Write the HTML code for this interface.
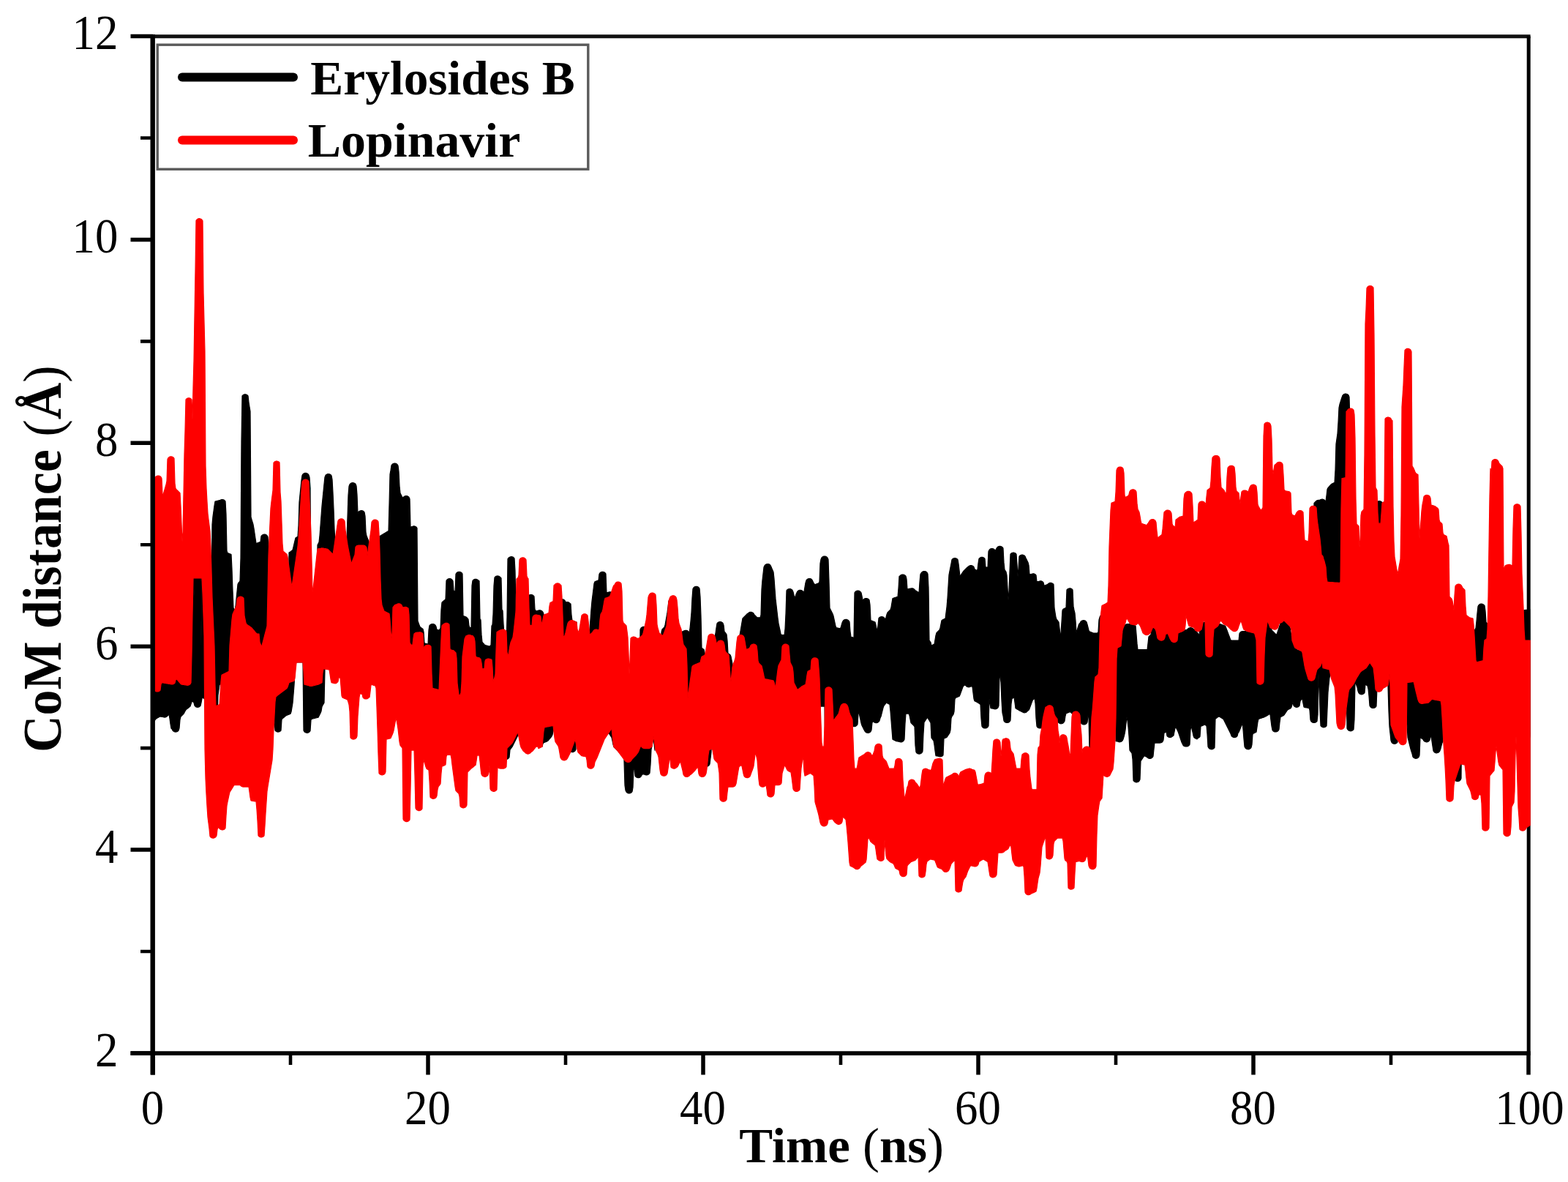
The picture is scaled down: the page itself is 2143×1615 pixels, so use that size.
<!DOCTYPE html>
<html lang="en"><head><meta charset="utf-8"><title>CoM distance vs Time</title>
<style>html,body{margin:0;padding:0;background:#fff}svg{display:block;filter:blur(0.45px)}</style></head>
<body>
<svg width="2143" height="1615" viewBox="0 0 2143 1615">
<rect width="2143" height="1615" fill="#fff"/>
<path d="M209.0,49.8H2091.6" stroke="#111" stroke-width="5" fill="none"/>
<path d="M2089.2,49.5V1439.0" stroke="#000" stroke-width="5" fill="none"/>
<clipPath id="plotclip"><rect x="209" y="40" width="1882.6" height="1400"/></clipPath>
<g clip-path="url(#plotclip)">
<path d="M210,797.8 211,798.0 212,798.1 213,798.0 214,797.8 215,797.6 216,797.5 217,797.4 218,797.2 219,796.9 220,793.4 221,793.4 222,804.0 223,804.4 224,802.7 225,801.1 226,799.4 227,797.8 228,795.6 229,780.8 230,779.9 231,779.5 232,779.3 233,779.3 234,779.4 235,779.5 236,779.6 237,779.8 238,780.1 239,796.7 240,798.3 241,798.2 242,799.0 243,800.1 244,801.2 245,802.3 246,803.4 247,812.9 248,825.4 249,837.6 250,831.3 251,804.7 252,778.1 253,762.1 254,740.9 255,740.5 256,740.2 257,740.1 258,739.9 259,739.7 260,739.4 261,738.7 262,720.4 263,705.7 264,659.8 265,815.1 266,789.3 267,788.2 268,787.6 269,787.3 270,787.1 271,787.2 272,787.6 273,788.1 274,789.2 275,883.1 276,545.1 277,556.4 278,620.0 279,654.6 280,751.7 281,850.5 282,875.9 283,893.6 284,909.3 285,917.1 286,924.9 287,934.2 288,945.0 289,810.6 290,716.6 291,705.6 292,698.3 293,690.9 294,685.0 295,684.8 296,684.5 297,684.3 298,684.0 299,683.8 300,683.5 301,683.3 302,682.9 303,682.7 304,682.6 305,682.7 306,683.1 307,683.8 308,685.0 309,702.5 310,752.5 311,755.5 312,755.9 313,756.3 314,756.7 315,757.1 316,757.5 317,777.8 318,806.8 319,830.6 320,832.6 321,834.6 322,828.2 323,818.2 324,808.2 325,798.2 326,796.4 327,795.1 328,793.7 329,762.4 330,602.4 331,540.9 332,539.9 333,539.2 334,538.9 335,538.8 336,538.9 337,539.2 338,539.8 339,540.8 340,549.8 341,556.0 342,562.1 343,706.5 344,709.9 345,713.2 346,716.5 347,722.1 348,728.8 349,735.5 350,742.1 351,742.3 352,741.9 353,741.5 354,741.1 355,740.7 356,740.3 357,732.7 358,731.4 359,730.7 360,730.3 361,730.1 362,730.2 363,730.4 364,730.9 365,731.8 366,733.5 367,747.0 368,755.1 369,885.8 370,872.4 371,865.0 372,858.1 373,846.6 374,814.6 375,804.5 376,794.7 377,791.1 378,790.6 379,790.3 380,790.0 381,789.9 382,790.0 383,810.0 384,815.7 385,829.8 386,843.9 387,848.7 388,848.7 389,848.7 390,848.8 391,848.8 392,848.8 393,849.7 394,851.8 395,755.1 396,754.4 397,753.7 398,752.9 399,752.2 400,751.4 401,747.4 402,743.1 403,738.8 404,735.0 405,734.3 406,733.7 407,733.0 408,718.1 409,686.1 410,676.1 411,666.1 412,656.1 413,649.5 414,647.9 415,647.1 416,646.6 417,646.4 418,646.3 419,646.5 420,647.0 421,647.7 422,649.1 423,652.2 424,667.1 425,832.7 426,852.2 427,872.7 428,870.6 429,865.8 430,861.1 431,856.3 432,851.6 433,846.8 434,744.8 435,742.8 436,740.8 437,731.6 438,718.3 439,704.9 440,691.6 441,681.2 442,671.2 443,661.2 444,651.9 445,649.5 446,648.5 447,647.9 448,647.7 449,647.6 450,647.7 451,648.1 452,648.7 453,649.8 454,655.0 455,673.6 456,695.5 457,723.0 458,740.1 459,832.4 460,828.8 461,825.0 462,821.3 463,817.9 464,817.7 465,817.6 466,823.3 467,829.9 468,831.0 469,831.5 470,832.2 471,833.2 472,839.5 473,843.1 474,736.5 475,706.5 476,676.5 477,664.5 478,661.8 479,660.7 480,660.1 481,659.7 482,659.6 483,659.7 484,660.0 485,660.5 486,661.5 487,663.9 488,676.1 489,702.1 490,699.5 491,698.5 492,698.0 493,697.7 494,697.6 495,697.7 496,698.1 497,698.7 498,699.8 499,705.0 500,727.0 501,732.3 502,734.8 503,737.3 504,739.8 505,742.3 506,838.4 507,830.5 508,824.4 509,823.7 510,823.5 511,823.4 512,823.5 513,823.7 514,825.2 515,839.0 516,854.1 517,871.6 518,892.5 519,732.6 520,732.0 521,731.4 522,730.8 523,730.2 524,729.6 525,729.0 526,728.4 527,727.8 528,727.2 529,726.6 530,726.0 531,725.4 532,689.4 533,648.2 534,642.7 535,635.8 536,634.5 537,633.7 538,633.3 539,633.1 540,633.1 541,633.3 542,633.8 543,634.6 544,636.3 545,644.3 546,664.3 547,673.8 548,675.8 549,677.8 550,679.8 551,679.7 552,678.8 553,678.1 554,677.7 555,677.6 556,677.7 557,677.9 558,678.5 559,679.4 560,681.7 561,720.0 562,719.8 563,719.5 564,719.2 565,718.9 566,718.9 567,719.0 568,719.5 569,720.2 570,721.5 571,848.5 572,851.3 573,854.1 574,856.5 575,857.2 576,858.0 577,858.7 578,859.5 579,863.4 580,878.4 581,879.0 582,879.3 583,879.5 584,879.8 585,880.0 586,860.7 587,854.7 588,853.8 589,853.1 590,852.7 591,852.6 592,852.6 593,852.9 594,853.4 595,854.3 596,856.1 597,860.1 598,860.5 599,860.9 600,861.3 601,859.9 602,858.4 603,832.7 604,823.1 605,822.2 606,821.3 607,820.5 608,819.6 609,818.6 610,793.4 611,792.0 612,791.3 613,790.8 614,790.7 615,790.7 616,790.9 617,791.4 618,792.2 619,793.8 620,806.9 621,807.8 622,808.0 623,784.3 624,782.8 625,782.0 626,781.5 627,781.3 628,781.3 629,781.5 630,781.9 631,782.7 632,784.1 633,841.5 634,841.8 635,842.2 636,842.6 637,843.0 638,843.7 639,845.0 640,846.2 641,854.8 642,857.5 643,857.5 644,857.5 645,800.0 646,793.3 647,792.3 648,791.7 649,791.4 650,791.3 651,791.4 652,791.7 653,792.2 654,793.2 655,793.7 656,845.5 657,846.8 658,867.4 659,877.2 660,878.4 661,879.5 662,880.7 663,881.4 664,881.7 665,882.0 666,882.3 667,882.6 668,882.9 669,883.0 670,882.3 671,881.5 672,855.0 673,853.6 674,839.3 675,800.3 676,789.1 677,788.0 678,787.3 679,787.0 680,786.9 681,787.0 682,787.3 683,787.9 684,788.9 685,790.0 686,832.9 687,834.3 688,852.6 689,867.2 690,874.7 691,880.4 692,881.8 693,843.1 694,763.6 695,762.5 696,761.5 697,761.0 698,760.7 699,760.6 700,760.8 701,761.1 702,761.8 703,762.9 704,779.7 705,827.9 706,834.6 707,850.6 708,860.0 709,860.0 710,860.0 711,860.0 712,860.0 713,860.0 714,860.0 715,860.0 716,860.0 717,860.0 718,860.0 719,860.0 720,860.0 721,816.1 722,814.2 723,813.3 724,812.8 725,812.6 726,812.5 727,812.7 728,813.1 729,813.8 730,815.0 731,832.5 732,834.1 733,834.9 734,834.7 735,834.4 736,834.1 737,833.8 738,833.8 739,834.0 740,834.4 741,835.2 742,836.3 743,839.3 744,848.2 745,858.9 746,860.0 747,860.0 748,860.0 749,860.0 750,860.0 751,860.0 752,860.0 753,860.0 754,860.0 755,860.0 756,860.0 757,860.0 758,860.0 759,860.0 760,860.0 761,860.0 762,860.0 763,860.0 764,821.2 765,820.0 766,819.3 767,818.9 768,818.8 769,818.8 770,819.1 771,819.6 772,820.5 773,822.5 774,822.7 775,822.5 776,822.6 777,822.9 778,823.5 779,824.4 780,825.0 781,840.7 782,847.8 783,848.2 784,848.5 785,848.9 786,849.3 787,849.7 788,850.0 789,941.9 790,945.1 791,946.9 792,944.6 793,942.1 794,939.6 795,936.8 796,936.4 797,936.2 798,936.1 799,936.2 800,936.3 801,936.6 802,939.0 803,944.2 804,948.6 805,864.2 806,860.2 807,846.5 808,832.5 809,821.3 810,813.3 811,805.3 812,797.3 813,794.8 814,794.4 815,794.0 816,793.6 817,793.2 818,792.8 819,784.3 820,782.8 821,782.0 822,781.5 823,781.3 824,781.3 825,781.5 826,781.9 827,782.7 828,784.2 829,809.9 830,809.7 831,809.4 832,809.1 833,808.8 834,808.8 835,809.0 836,809.5 837,810.2 838,811.7 839,817.6 840,910.2 841,909.7 842,909.8 843,910.0 844,910.4 845,911.1 846,911.8 847,912.7 848,913.7 849,914.9 850,920.8 851,941.4 852,943.7 853,944.9 854,946.0 855,947.1 856,947.9 857,951.9 858,956.0 859,967.0 860,981.3 861,971.0 862,956.1 863,954.9 864,953.9 865,953.2 866,952.6 867,952.2 868,951.8 869,951.6 870,951.2 871,950.7 872,950.3 873,949.0 874,947.3 875,860.3 876,858.2 877,857.2 878,856.7 879,856.4 880,856.3 881,856.5 882,856.8 883,857.5 884,858.7 885,865.1 886,919.3 887,917.9 888,916.9 889,916.2 890,915.5 891,915.1 892,911.6 893,908.0 894,911.0 895,914.7 896,918.7 897,926.6 898,941.0 899,944.6 900,947.8 901,954.0 902,959.0 903,962.0 904,863.4 905,859.9 906,858.9 907,857.9 908,856.9 909,853.9 910,848.3 911,842.6 912,836.9 913,829.3 914,820.8 915,927.7 916,926.3 917,931.3 918,931.6 919,931.8 920,931.9 921,932.1 922,932.2 923,932.4 924,932.7 925,933.9 926,938.8 927,870.1 928,867.4 929,864.9 930,864.4 931,863.9 932,863.4 933,862.9 934,862.4 935,861.9 936,861.5 937,861.3 938,861.4 939,861.6 940,862.1 941,863.0 942,864.7 943,858.5 944,848.5 945,837.0 946,817.0 947,804.5 948,802.9 949,802.0 950,801.6 951,801.3 952,801.3 953,801.5 954,801.9 955,802.7 956,804.0 957,815.6 958,842.3 959,885.3 960,886.0 961,886.7 962,887.3 963,891.4 964,895.1 965,971.8 966,965.8 967,958.0 968,950.1 969,946.3 970,945.7 971,945.2 972,944.9 973,944.7 974,945.8 975,949.0 976,952.4 977,870.1 978,865.0 979,857.8 980,851.8 981,850.7 982,850.1 983,849.7 984,849.6 985,849.7 986,849.9 987,850.5 988,851.5 989,854.1 990,862.8 991,864.1 992,865.4 993,866.8 994,875.2 995,892.7 996,893.3 997,894.0 998,894.7 999,897.0 1000,902.0 1001,907.0 1002,991.4 1003,990.0 1004,988.3 1005,986.0 1006,979.3 1007,970.9 1008,964.6 1009,960.9 1010,872.1 1011,868.1 1012,862.3 1013,856.3 1014,850.3 1015,844.9 1016,843.9 1017,842.9 1018,841.9 1019,840.9 1020,839.9 1021,838.9 1022,838.4 1023,837.4 1024,836.8 1025,836.4 1026,836.3 1027,836.4 1028,836.7 1029,837.2 1030,838.2 1031,840.0 1032,840.9 1033,841.9 1034,842.9 1035,843.8 1036,843.8 1037,843.8 1038,843.8 1039,843.8 1040,840.1 1041,805.1 1042,792.5 1043,783.8 1044,775.0 1045,772.8 1046,771.7 1047,771.0 1048,770.7 1049,770.5 1050,770.6 1051,770.9 1052,771.4 1053,772.4 1054,774.6 1055,776.9 1056,779.3 1057,781.6 1058,790.9 1059,804.9 1060,818.4 1061,827.1 1062,835.7 1063,844.4 1064,851.7 1065,856.4 1066,861.0 1067,865.7 1068,867.6 1069,867.6 1070,867.6 1071,867.6 1072,867.6 1073,859.3 1074,838.5 1075,806.9 1076,805.7 1077,805.1 1078,804.7 1079,804.6 1080,804.6 1081,804.9 1082,805.5 1083,806.4 1084,808.7 1085,812.9 1086,816.9 1087,815.1 1088,812.1 1089,809.7 1090,807.9 1091,807.1 1092,806.6 1093,806.3 1094,806.3 1095,806.5 1096,806.9 1097,807.6 1098,808.9 1099,808.1 1100,802.1 1101,796.1 1102,792.9 1103,791.7 1104,791.1 1105,790.7 1106,790.5 1107,790.6 1108,790.9 1109,791.4 1110,792.4 1111,794.6 1112,796.7 1113,797.9 1114,798.7 1115,798.3 1116,797.9 1117,797.5 1118,797.1 1119,796.7 1120,794.6 1121,769.6 1122,764.3 1123,762.0 1124,761.0 1125,760.4 1126,760.1 1127,760.0 1128,760.1 1129,760.5 1130,761.1 1131,762.2 1132,764.6 1133,794.2 1134,830.7 1135,832.7 1136,834.7 1137,836.7 1138,838.7 1139,841.5 1140,846.2 1141,850.8 1142,855.5 1143,857.7 1144,857.9 1145,858.1 1146,858.3 1147,858.5 1148,858.7 1149,857.8 1150,854.3 1151,850.8 1152,848.7 1153,847.5 1154,846.8 1155,846.5 1156,846.3 1157,846.4 1158,846.7 1159,847.2 1160,848.1 1161,849.9 1162,862.8 1163,870.2 1164,870.5 1165,870.7 1166,871.0 1167,871.2 1168,809.9 1169,808.5 1170,807.7 1171,807.3 1172,807.1 1173,807.1 1174,807.3 1175,807.8 1176,808.6 1177,809.8 1178,814.4 1179,819.9 1180,819.3 1181,818.4 1182,817.9 1183,817.6 1184,817.6 1185,817.7 1186,818.1 1187,818.8 1188,819.7 1189,826.3 1190,847.6 1191,848.0 1192,848.4 1193,848.8 1194,849.2 1195,849.6 1196,850.0 1197,854.0 1198,859.0 1199,860.8 1200,854.3 1201,844.6 1202,843.6 1203,843.0 1204,842.7 1205,842.6 1206,842.7 1207,843.0 1208,843.6 1209,844.7 1210,847.5 1211,843.5 1212,839.5 1213,837.0 1214,836.0 1215,835.0 1216,834.0 1217,833.0 1218,829.4 1219,823.4 1220,817.5 1221,817.2 1222,816.9 1223,816.5 1224,816.2 1225,815.9 1226,815.5 1227,815.2 1228,803.7 1229,787.4 1230,786.8 1231,785.9 1232,785.4 1233,785.1 1234,785.0 1235,785.2 1236,785.6 1237,786.3 1238,787.2 1239,791.2 1240,805.0 1241,804.8 1242,804.6 1243,804.4 1244,804.2 1245,804.0 1246,803.8 1247,803.9 1248,804.1 1249,804.7 1250,805.6 1251,806.7 1252,807.3 1253,807.9 1254,808.6 1255,809.2 1256,809.9 1257,795.0 1258,784.6 1259,783.0 1260,781.8 1261,781.1 1262,780.7 1263,780.5 1264,780.6 1265,780.9 1266,781.4 1267,782.3 1268,784.3 1269,802.7 1270,874.7 1271,876.3 1272,877.6 1273,882.1 1274,881.6 1275,881.1 1276,880.6 1277,880.1 1278,874.1 1279,868.1 1280,864.6 1281,863.6 1282,862.6 1283,861.6 1284,860.6 1285,857.7 1286,852.7 1287,847.7 1288,847.1 1289,846.6 1290,846.1 1291,845.6 1292,845.1 1293,837.2 1294,829.2 1295,817.3 1296,801.3 1297,785.3 1298,780.1 1299,775.1 1300,770.1 1301,764.7 1302,763.6 1303,763.0 1304,762.7 1305,762.6 1306,762.7 1307,763.0 1308,763.6 1309,764.6 1310,770.4 1311,778.9 1312,787.4 1313,786.1 1314,784.6 1315,783.1 1316,781.6 1317,780.1 1318,779.1 1319,778.1 1320,777.1 1321,776.1 1322,775.1 1323,774.6 1324,773.6 1325,773.0 1326,772.7 1327,772.6 1328,772.7 1329,773.0 1330,773.6 1331,774.6 1332,777.6 1333,778.2 1334,778.9 1335,779.6 1336,778.2 1337,769.6 1338,763.4 1339,762.4 1340,761.8 1341,761.4 1342,761.3 1343,761.4 1344,761.7 1345,762.3 1346,763.3 1347,774.8 1348,775.1 1349,775.1 1350,775.1 1351,753.4 1352,751.4 1353,750.4 1354,749.9 1355,749.6 1356,749.6 1357,749.7 1358,750.1 1359,750.8 1360,752.0 1361,751.1 1362,749.4 1363,747.8 1364,747.0 1365,746.6 1366,746.3 1367,746.3 1368,746.5 1369,747.0 1370,747.7 1371,749.2 1372,768.9 1373,778.3 1374,779.8 1375,781.4 1376,786.0 1377,803.0 1378,820.0 1379,807.0 1380,781.0 1381,757.2 1382,756.1 1383,755.5 1384,755.2 1385,755.1 1386,755.2 1387,755.5 1388,756.1 1389,757.1 1390,770.7 1391,787.9 1392,776.4 1393,760.2 1394,759.1 1395,758.5 1396,758.2 1397,758.1 1398,758.2 1399,758.5 1400,759.1 1401,760.1 1402,762.5 1403,764.4 1404,766.4 1405,768.4 1406,772.3 1407,784.3 1408,784.9 1409,784.6 1410,784.3 1411,784.0 1412,783.8 1413,783.9 1414,784.2 1415,784.8 1416,785.8 1417,794.9 1418,794.7 1419,794.5 1420,794.3 1421,794.0 1422,793.8 1423,793.9 1424,794.2 1425,794.8 1426,795.8 1427,800.0 1428,799.8 1429,799.5 1430,799.1 1431,798.8 1432,798.2 1433,797.2 1434,796.7 1435,796.4 1436,796.3 1437,796.5 1438,796.9 1439,797.5 1440,798.7 1441,830.7 1442,836.9 1443,843.1 1444,846.0 1445,847.3 1446,848.7 1447,850.0 1448,858.3 1449,867.3 1450,866.0 1451,850.0 1452,834.0 1453,832.2 1454,831.7 1455,831.2 1456,830.7 1457,830.2 1458,806.0 1459,804.9 1460,804.3 1461,804.0 1462,803.8 1463,803.9 1464,804.2 1465,804.8 1466,805.8 1467,828.4 1468,833.7 1469,837.7 1470,848.2 1471,864.6 1472,861.3 1473,858.0 1474,854.6 1475,852.3 1476,851.5 1477,849.5 1478,848.5 1479,848.0 1480,847.7 1481,847.6 1482,847.8 1483,848.1 1484,848.8 1485,849.9 1486,853.2 1487,857.2 1488,861.2 1489,862.9 1490,863.3 1491,863.7 1492,864.1 1493,864.5 1494,864.9 1495,865.1 1496,865.1 1497,865.1 1498,865.1 1499,865.1 1500,865.1 1501,862.9 1502,846.9 1503,843.3 1504,841.3 1505,840.1 1506,959.1 1507,950.9 1508,942.2 1509,942.8 1510,943.0 1511,943.0 1512,942.8 1513,942.5 1514,942.1 1515,930.5 1516,903.5 1517,890.3 1518,876.8 1519,871.1 1520,869.9 1521,868.7 1522,864.0 1523,856.3 1524,848.3 1525,885.0 1526,884.7 1527,884.3 1528,884.0 1529,883.7 1530,883.3 1531,883.0 1532,882.7 1533,874.7 1534,865.7 1535,859.7 1536,857.0 1537,854.5 1538,853.6 1539,853.0 1540,852.7 1541,852.6 1542,852.6 1543,852.6 1544,852.6 1545,852.6 1546,852.6 1547,852.6 1548,852.7 1549,853.0 1550,853.5 1551,854.5 1552,855.1 1553,866.4 1554,879.4 1555,887.6 1556,887.6 1557,887.6 1558,887.6 1559,887.6 1560,887.6 1561,887.6 1562,887.6 1563,887.6 1564,887.6 1565,887.6 1566,887.6 1567,887.6 1568,887.6 1569,879.1 1570,869.8 1571,868.8 1572,867.8 1573,866.8 1574,860.3 1575,859.0 1576,858.2 1577,857.8 1578,857.6 1579,857.7 1580,857.9 1581,858.4 1582,859.2 1583,860.9 1584,873.6 1585,874.1 1586,874.6 1587,875.1 1588,873.9 1589,872.4 1590,870.9 1591,869.4 1592,867.1 1593,866.1 1594,865.5 1595,865.2 1596,865.1 1597,865.2 1598,865.6 1599,866.2 1600,867.3 1601,874.0 1602,875.0 1603,876.0 1604,877.0 1605,876.8 1606,874.3 1607,871.8 1608,869.3 1609,866.8 1610,865.0 1611,864.5 1612,864.0 1613,863.5 1614,863.0 1615,862.5 1616,862.2 1617,861.8 1618,861.5 1619,861.2 1620,860.8 1621,860.5 1622,860.2 1623,859.7 1624,858.8 1625,858.1 1626,857.8 1627,857.6 1628,857.7 1629,858.0 1630,858.5 1631,859.5 1632,860.0 1633,861.0 1634,862.0 1635,863.0 1636,864.0 1637,865.0 1638,866.8 1639,868.8 1640,853.5 1641,851.8 1642,850.9 1643,850.4 1644,850.2 1645,850.1 1646,850.3 1647,850.7 1648,851.4 1649,852.7 1650,871.4 1651,870.0 1652,868.7 1653,867.4 1654,866.0 1655,864.7 1656,863.4 1657,862.0 1658,860.7 1659,859.6 1660,858.8 1661,857.9 1662,857.1 1663,855.0 1664,853.8 1665,853.1 1666,852.8 1667,852.6 1668,852.7 1669,853.0 1670,853.5 1671,853.9 1672,854.2 1673,854.6 1674,854.9 1675,855.9 1676,858.6 1677,861.3 1678,863.9 1679,866.6 1680,869.3 1681,871.9 1682,874.6 1683,875.1 1684,875.1 1685,875.1 1686,875.1 1687,875.1 1688,875.1 1689,875.1 1690,875.1 1691,875.1 1692,875.1 1693,875.1 1694,865.5 1695,864.0 1696,863.3 1697,862.8 1698,862.6 1699,862.6 1700,862.6 1701,862.6 1702,862.6 1703,862.7 1704,863.0 1705,863.2 1706,863.4 1707,863.6 1708,863.8 1709,864.0 1710,864.2 1711,864.4 1712,864.6 1713,864.8 1714,865.0 1715,864.9 1716,864.0 1717,863.2 1718,862.3 1719,861.4 1720,860.6 1721,859.7 1722,858.9 1723,858.0 1724,857.2 1725,856.3 1726,855.4 1727,854.6 1728,852.5 1729,851.3 1730,850.6 1731,850.3 1732,850.1 1733,850.2 1734,850.5 1735,851.0 1736,851.9 1737,854.0 1738,860.9 1739,861.9 1740,862.9 1741,863.9 1742,864.9 1743,865.9 1744,866.9 1745,866.8 1746,863.8 1747,860.8 1748,857.8 1749,854.8 1750,851.2 1751,849.3 1752,848.4 1753,847.9 1754,847.7 1755,847.6 1756,847.8 1757,848.2 1758,848.9 1759,850.1 1760,851.1 1761,851.8 1762,852.5 1763,857.2 1764,863.2 1765,869.2 1766,875.2 1767,877.2 1768,879.2 1769,881.2 1770,883.2 1771,885.2 1772,887.2 1773,887.9 1774,888.2 1775,888.6 1776,888.9 1777,889.2 1778,889.6 1779,889.9 1780,891.7 1781,897.7 1782,903.7 1783,909.7 1784,826.4 1785,828.2 1786,830.1 1787,832.0 1788,833.8 1789,828.6 1790,812.1 1791,811.5 1792,811.1 1793,810.9 1794,810.6 1795,717.4 1796,687.5 1797,686.5 1798,685.5 1799,684.5 1800,683.8 1801,683.6 1802,683.4 1803,683.3 1804,683.1 1805,682.6 1806,682.3 1807,682.1 1808,682.2 1809,682.5 1810,683.1 1811,684.1 1812,685.1 1813,677.2 1814,668.5 1815,666.6 1816,665.5 1817,664.3 1818,663.2 1819,662.1 1820,661.2 1821,660.7 1822,660.2 1823,659.7 1824,659.2 1825,642.6 1826,606.6 1827,599.6 1828,592.6 1829,577.2 1830,557.2 1831,552.3 1832,549.2 1833,546.0 1834,542.9 1835,540.3 1836,539.2 1837,538.6 1838,538.2 1839,538.1 1840,538.2 1841,538.5 1842,539.0 1843,540.0 1844,542.5 1845,578.7 1846,620.1 1847,748.2 1848,747.8 1849,747.5 1850,747.4 1851,749.6 1852,764.6 1853,805.0 1854,821.2 1855,820.9 1856,820.6 1857,820.3 1858,834.0 1859,828.7 1860,810.9 1861,807.9 1862,807.1 1863,806.2 1864,805.3 1865,767.3 1866,678.0 1867,667.7 1868,652.5 1869,651.0 1870,649.8 1871,648.8 1872,647.9 1873,648.5 1874,649.3 1875,650.3 1876,651.4 1877,652.8 1878,689.5 1879,761.8 1880,803.9 1881,686.9 1882,685.8 1883,685.1 1884,684.8 1885,684.6 1886,684.7 1887,685.0 1888,685.6 1889,686.5 1890,689.0 1891,813.0 1892,812.4 1893,755.6 1894,754.7 1895,754.1 1896,753.6 1897,753.3 1898,749.6 1899,745.5 1900,753.9 1901,781.2 1902,783.6 1903,785.4 1904,845.3 1905,870.7 1906,882.6 1907,887.0 1908,890.6 1909,894.2 1910,897.8 1911,896.5 1912,894.3 1913,892.4 1914,890.2 1915,860.5 1916,786.8 1917,779.4 1918,771.9 1919,759.2 1920,747.7 1921,746.6 1922,745.1 1923,704.5 1924,704.4 1925,704.4 1926,704.4 1927,704.6 1928,705.1 1929,706.2 1930,784.1 1931,784.9 1932,785.6 1933,788.7 1934,792.2 1935,795.3 1936,797.6 1937,800.0 1938,802.3 1939,825.1 1940,848.0 1941,842.0 1942,835.9 1943,829.7 1944,825.5 1945,823.0 1946,819.9 1947,819.2 1948,818.8 1949,818.6 1950,818.4 1951,818.4 1952,818.5 1953,818.3 1954,818.3 1955,818.9 1956,823.2 1957,822.9 1958,823.0 1959,823.3 1960,823.5 1961,823.8 1962,824.3 1963,824.7 1964,825.2 1965,825.7 1966,826.6 1967,833.7 1968,835.3 1969,835.7 1970,838.8 1971,847.6 1972,862.8 1973,873.8 1974,881.0 1975,889.1 1976,899.4 1977,912.4 1978,915.2 1979,918.1 1980,920.0 1981,955.1 1982,955.6 1983,956.0 1984,956.3 1985,957.2 1986,959.7 1987,953.4 1988,940.7 1989,932.7 1990,930.5 1991,928.7 1992,927.0 1993,925.4 1994,923.9 1995,922.5 1996,921.3 1997,921.8 1998,922.7 1999,923.8 2000,924.4 2001,925.0 2002,925.6 2003,940.8 2004,951.9 2005,956.0 2006,957.4 2007,958.7 2008,960.1 2009,961.3 2010,962.8 2011,964.9 2012,967.7 2013,968.3 2014,865.1 2015,862.0 2016,860.0 2017,858.0 2018,848.7 2019,837.7 2020,828.6 2021,826.8 2022,825.9 2023,825.4 2024,825.1 2025,825.1 2026,825.3 2027,825.7 2028,826.4 2029,827.6 2030,834.9 2031,850.1 2032,851.1 2033,852.1 2034,861.8 2035,938.4 2036,868.7 2037,849.4 2038,853.7 2039,843.4 2040,842.1 2041,841.1 2042,840.3 2043,834.5 2044,827.5 2045,823.8 2046,827.7 2047,831.8 2048,836.2 2049,839.4 2050,840.5 2051,841.6 2052,842.7 2053,843.8 2054,845.9 2055,959.1 2056,958.6 2057,957.5 2058,957.3 2059,957.3 2060,957.2 2061,957.0 2062,956.7 2063,956.4 2064,955.9 2065,950.8 2066,937.4 2067,936.5 2068,910.4 2069,894.1 2070,885.8 2071,861.0 2072,847.5 2073,862.4 2074,880.0 2075,896.4 2076,903.1 2077,911.7 2078,913.0 2079,931.6 2080,959.5 2081,839.9 2082,834.9 2083,833.7 2084,833.6 2085,833.4 2086,833.3 2087,833.2 2088,833.0 2089,832.9 2090,832.7 2091,832.6 2092,1001.4 2092,1007.4 2091,1001.4 2090,1001.7 2089,1002.0 2088,1002.4 2087,1002.7 2086,1003.1 2085,1004.1 2084,1004.6 2083,997.3 2082,982.5 2081,971.0 2080,965.5 2079,937.6 2078,919.0 2077,917.7 2076,909.1 2075,902.4 2074,886.0 2073,868.4 2072,853.5 2071,867.0 2070,891.8 2069,900.1 2068,916.4 2067,942.5 2066,943.4 2065,956.8 2064,961.9 2063,962.4 2062,962.7 2061,963.0 2060,963.2 2059,963.3 2058,963.3 2057,963.5 2056,964.6 2055,965.1 2054,851.9 2053,849.8 2052,848.7 2051,847.6 2050,846.5 2049,845.4 2048,842.2 2047,837.8 2046,833.7 2045,829.8 2044,833.5 2043,840.5 2042,846.3 2041,847.1 2040,848.1 2039,849.4 2038,859.7 2037,855.4 2036,874.7 2035,944.4 2034,974.0 2033,997.0 2032,1003.8 2031,1004.2 2030,1004.6 2029,1004.9 2028,1009.8 2027,1018.3 2026,1017.8 2025,1000.5 2024,995.2 2023,994.8 2022,994.6 2021,995.3 2020,997.4 2019,998.1 2018,998.5 2017,997.2 2016,988.7 2015,980.2 2014,972.6 2013,974.3 2012,973.7 2011,970.9 2010,968.8 2009,967.3 2008,966.1 2007,964.7 2006,963.4 2005,962.0 2004,957.9 2003,946.8 2002,931.6 2001,931.0 2000,930.4 1999,929.8 1998,928.7 1997,1063.6 1996,1065.7 1995,1066.7 1994,1067.2 1993,1067.5 1992,1067.6 1991,1067.4 1990,1067.1 1989,1066.4 1988,1065.2 1987,1012.0 1986,965.7 1985,963.2 1984,962.3 1983,962.0 1982,961.6 1981,961.1 1980,926.0 1979,924.1 1978,921.2 1977,918.4 1976,905.4 1975,895.1 1974,887.0 1973,879.8 1972,1012.9 1971,1014.9 1970,1018.7 1969,1022.7 1968,1025.6 1967,1027.3 1966,1028.1 1965,1028.5 1964,1028.8 1963,1028.8 1962,1028.6 1961,1028.2 1960,1027.4 1959,1026.0 1958,1019.7 1957,1012.7 1956,1005.7 1955,1006.9 1954,1011.2 1953,1012.5 1952,1013.2 1951,1013.6 1950,1013.8 1949,1013.8 1948,1013.5 1947,1013.0 1946,1012.2 1945,1010.4 1944,1009.6 1943,1008.9 1942,1008.3 1941,1007.6 1940,1032.1 1939,1034.4 1938,1035.4 1937,1036.0 1936,1036.2 1935,1036.3 1934,1036.2 1933,1035.8 1932,1035.2 1931,1034.0 1930,1029.9 1929,1026.9 1928,1023.5 1927,1019.5 1926,1015.5 1925,1011.5 1924,1007.5 1923,989.1 1922,751.1 1921,752.6 1920,753.7 1919,765.2 1918,777.9 1917,785.4 1916,792.8 1915,866.5 1914,896.2 1913,898.4 1912,900.3 1911,980.4 1910,1014.1 1909,1015.2 1908,1015.8 1907,1016.2 1906,1016.3 1905,1016.2 1904,1015.9 1903,1015.4 1902,1014.4 1901,1011.7 1900,1002.1 1899,993.1 1898,972.1 1897,937.5 1896,759.6 1895,760.1 1894,760.7 1893,761.6 1892,818.4 1891,819.0 1890,813.7 1889,814.8 1888,822.9 1887,829.8 1886,830.1 1885,830.1 1884,830.1 1883,823.0 1882,940.1 1881,964.8 1880,966.2 1879,966.9 1878,967.3 1877,967.5 1876,967.5 1875,967.3 1874,966.8 1873,965.9 1872,964.2 1871,951.3 1870,941.3 1869,937.1 1868,936.4 1867,935.8 1866,935.1 1865,946.5 1864,947.6 1863,948.3 1862,948.6 1861,948.8 1860,948.7 1859,948.4 1858,947.8 1857,946.9 1856,944.4 1855,939.2 1854,936.5 1853,933.8 1852,931.1 1851,983.3 1850,996.5 1849,997.7 1848,998.3 1847,998.7 1846,998.8 1845,998.7 1844,998.4 1843,997.9 1842,996.9 1841,995.1 1840,925.0 1839,816.3 1838,821.7 1837,823.6 1836,824.3 1835,824.7 1834,825.0 1833,845.6 1832,895.8 1831,896.2 1830,895.9 1829,895.4 1828,894.2 1827,892.1 1826,882.1 1825,872.1 1824,867.3 1823,866.0 1822,864.7 1821,863.4 1820,915.0 1819,917.4 1818,921.4 1817,926.0 1816,936.0 1815,946.0 1814,969.3 1813,991.9 1812,992.8 1811,993.4 1810,993.7 1809,993.8 1808,993.7 1807,993.3 1806,992.7 1805,991.6 1804,970.2 1803,941.2 1802,920.4 1801,976.4 1800,985.5 1799,986.4 1798,987.0 1797,987.4 1796,987.5 1795,987.5 1794,987.2 1793,986.6 1792,985.7 1791,983.4 1790,970.4 1789,967.4 1788,967.3 1787,967.1 1786,966.9 1785,966.8 1784,966.6 1783,966.4 1782,965.9 1781,960.9 1780,955.9 1779,954.7 1778,956.4 1777,958.1 1776,964.3 1775,965.3 1774,965.9 1773,966.2 1772,966.3 1771,966.2 1770,965.8 1769,965.2 1768,964.1 1767,959.1 1766,962.6 1765,966.1 1764,967.8 1763,968.3 1762,968.8 1761,969.3 1760,969.8 1759,970.9 1758,972.4 1757,973.9 1756,975.4 1755,976.9 1754,977.8 1753,978.3 1752,978.8 1751,979.3 1750,979.8 1749,986.9 1748,996.6 1747,998.4 1746,999.2 1745,999.7 1744,1000.0 1743,1000.0 1742,999.9 1741,999.5 1740,998.8 1739,997.5 1738,992.5 1737,984.5 1736,976.5 1735,975.6 1734,976.2 1733,976.9 1732,977.6 1731,978.1 1730,978.6 1729,979.1 1728,979.6 1727,980.1 1726,980.4 1725,980.7 1724,981.1 1723,981.4 1722,981.7 1721,982.1 1720,982.4 1719,986.4 1718,993.4 1717,1000.1 1716,1000.6 1715,1001.1 1714,1001.6 1713,1002.1 1712,1003.3 1711,1017.3 1710,1021.4 1709,1022.6 1708,1023.3 1707,1023.7 1706,1023.8 1705,1023.7 1704,1023.5 1703,1022.9 1702,1022.0 1701,1020.2 1700,1009.7 1699,996.7 1698,988.3 1697,990.8 1696,993.3 1695,995.8 1694,998.3 1693,1000.4 1692,1001.6 1691,1005.5 1690,1006.6 1689,1007.1 1688,1007.5 1687,1007.6 1686,1007.4 1685,1007.1 1684,1006.5 1683,1005.4 1682,1002.5 1681,1000.5 1680,998.5 1679,996.5 1678,994.5 1677,992.5 1676,990.5 1675,988.5 1674,986.5 1673,984.5 1672,982.5 1671,981.9 1670,981.3 1669,980.7 1668,980.1 1667,979.5 1666,978.9 1665,979.4 1664,980.1 1663,980.9 1662,981.6 1661,982.4 1660,1021.4 1659,1022.6 1658,1023.3 1657,1023.7 1656,1023.8 1655,1023.7 1654,1023.5 1653,1022.9 1652,1022.0 1651,1020.2 1650,1003.1 1649,992.0 1648,991.0 1647,990.0 1646,990.4 1645,990.8 1644,991.2 1643,991.6 1642,992.0 1641,992.4 1640,1006.4 1639,1007.6 1638,1008.3 1637,1008.6 1636,1010.0 1635,1009.5 1634,1008.9 1633,1008.4 1632,1007.8 1631,1005.2 1630,1000.5 1629,995.9 1628,991.2 1627,997.5 1626,1017.1 1625,1018.6 1624,1019.4 1623,1019.8 1622,1020.0 1621,1020.0 1620,1020.0 1619,1019.7 1618,1019.2 1617,1018.3 1616,1016.3 1615,1014.3 1614,1011.3 1613,1008.3 1612,1005.3 1611,1002.3 1610,999.6 1609,997.6 1608,995.6 1607,993.6 1606,995.0 1605,1000.0 1604,1005.0 1603,1005.5 1602,1006.5 1601,1007.1 1600,1007.4 1599,1007.6 1598,1007.5 1597,1007.1 1596,1006.5 1595,1005.5 1594,1000.1 1593,1000.5 1592,1001.0 1591,1001.5 1590,1011.3 1589,1013.3 1588,1014.2 1587,1014.7 1586,1015.0 1585,1015.1 1584,1015.1 1583,1015.1 1582,1015.1 1581,1015.1 1580,1015.1 1579,1015.1 1578,1015.1 1577,1023.7 1576,1033.3 1575,1034.8 1574,1035.6 1573,1036.1 1572,1036.3 1571,1036.3 1570,1036.1 1569,1035.6 1568,1034.9 1567,1034.1 1566,1033.6 1565,1033.1 1564,1032.6 1563,1034.0 1562,1035.5 1561,1037.0 1560,1038.5 1559,1040.0 1558,1065.0 1557,1067.0 1556,1068.0 1555,1068.5 1554,1068.8 1553,1068.8 1552,1068.7 1551,1068.3 1550,1067.6 1549,1066.4 1548,1037.6 1547,1029.1 1546,1027.8 1545,1026.4 1544,1025.1 1543,1005.9 1542,993.7 1541,984.7 1540,979.4 1539,988.4 1538,997.4 1537,1002.9 1536,1006.9 1535,1010.2 1534,1012.0 1533,1012.9 1532,1013.5 1531,1013.7 1530,1013.8 1529,1013.7 1528,1013.3 1527,1013.0 1526,1012.8 1525,1012.6 1524,854.3 1523,862.3 1522,870.0 1521,874.7 1520,875.9 1519,877.1 1518,882.8 1517,896.3 1516,909.5 1515,936.5 1514,948.1 1513,948.5 1512,948.8 1511,949.0 1510,949.0 1509,948.8 1508,948.2 1507,956.9 1506,965.1 1505,963.7 1504,968.8 1503,982.4 1502,1006.2 1501,1014.1 1500,1018.0 1499,1032.0 1498,1023.6 1497,1025.7 1496,1026.7 1495,1027.2 1494,1027.5 1493,1027.6 1492,1027.4 1491,1027.0 1490,1026.4 1489,1025.2 1488,979.1 1487,978.1 1486,986.9 1485,988.5 1484,989.3 1483,989.8 1482,990.0 1481,990.0 1480,989.8 1479,989.4 1478,988.6 1477,987.2 1476,985.9 1475,984.9 1474,983.9 1473,982.9 1472,981.9 1471,980.9 1470,979.9 1469,978.9 1468,977.9 1467,976.9 1466,975.9 1465,974.9 1464,973.9 1463,972.9 1462,972.8 1461,973.2 1460,973.6 1459,974.0 1458,974.4 1457,974.8 1456,978.4 1455,985.2 1454,986.9 1453,987.9 1452,988.4 1451,988.7 1450,988.8 1449,988.7 1448,988.3 1447,987.6 1446,986.5 1445,985.5 1444,985.9 1443,986.2 1442,986.6 1441,987.0 1440,987.3 1439,987.7 1438,988.0 1437,988.4 1436,988.7 1435,989.1 1434,989.4 1433,989.8 1432,990.1 1431,990.5 1430,990.8 1429,991.2 1428,991.5 1427,991.9 1426,992.2 1425,993.5 1424,994.3 1423,994.8 1422,995.0 1421,995.0 1420,994.8 1419,994.4 1418,993.7 1417,992.3 1416,981.7 1415,961.0 1414,954.3 1413,955.0 1412,955.8 1411,957.4 1410,960.1 1409,962.9 1408,965.6 1407,968.4 1406,970.3 1405,970.9 1404,971.9 1403,972.9 1402,973.4 1401,973.7 1400,973.8 1399,973.6 1398,973.3 1397,972.6 1396,972.1 1395,971.7 1394,971.3 1393,970.7 1392,970.1 1391,969.5 1390,968.9 1389,968.3 1388,967.7 1387,959.9 1386,952.8 1385,953.4 1384,954.1 1383,954.8 1382,962.0 1381,984.3 1380,985.9 1379,986.8 1378,987.3 1377,987.5 1376,987.5 1375,987.3 1374,986.9 1373,986.2 1372,984.8 1371,978.2 1370,974.1 1369,957.2 1368,932.8 1367,924.1 1366,924.6 1365,964.3 1364,966.9 1363,967.8 1362,968.4 1361,968.7 1360,968.8 1359,968.7 1358,968.4 1357,968.2 1356,968.0 1355,967.8 1354,967.6 1353,961.4 1352,954.4 1351,991.7 1350,993.4 1349,994.3 1348,994.8 1347,995.0 1346,995.0 1345,994.9 1344,994.4 1343,993.7 1342,992.4 1341,982.0 1340,962.5 1339,961.8 1338,961.1 1337,960.5 1336,959.8 1335,959.3 1334,958.8 1333,958.3 1332,957.8 1331,954.7 1330,946.7 1329,938.7 1328,937.7 1327,938.0 1326,938.3 1325,938.6 1324,938.8 1323,938.7 1322,938.4 1321,937.9 1320,936.9 1319,935.8 1318,936.4 1317,937.1 1316,938.5 1315,941.2 1314,944.0 1313,946.7 1312,949.5 1311,951.4 1310,951.8 1309,952.2 1308,952.6 1307,953.0 1306,953.4 1305,955.4 1304,972.4 1303,976.2 1302,977.5 1301,978.8 1300,981.5 1299,997.5 1298,1001.3 1297,1002.8 1296,1004.3 1295,1005.8 1294,1007.3 1293,1007.9 1292,1008.3 1291,1008.7 1290,1009.1 1289,1031.9 1288,1032.9 1287,1033.4 1286,1033.7 1285,1033.8 1284,1033.7 1283,1033.4 1282,1033.2 1281,1033.0 1280,1032.8 1279,1032.6 1278,1025.9 1277,1017.9 1276,1012.1 1275,1010.8 1274,1009.4 1273,1008.1 1272,987.6 1271,986.0 1270,984.3 1269,982.6 1268,981.0 1267,980.9 1266,982.4 1265,983.9 1264,985.4 1263,986.9 1262,1002.6 1261,1026.4 1260,1028.4 1259,1029.3 1258,1029.8 1257,1030.1 1256,1030.1 1255,1030.0 1254,1029.6 1253,1028.9 1252,1027.7 1251,1018.8 1250,992.8 1249,991.6 1248,990.6 1247,989.6 1246,988.6 1245,987.6 1244,982.7 1243,977.7 1242,975.1 1241,975.1 1240,975.1 1239,975.1 1238,975.1 1237,988.7 1236,1010.3 1235,1012.1 1234,1013.0 1233,1013.6 1232,1013.8 1231,1013.9 1230,1013.7 1229,1013.4 1228,1013.2 1227,1013.0 1226,1012.8 1225,1012.6 1224,1012.2 1223,1011.7 1222,1011.2 1221,1010.7 1220,1010.2 1219,997.4 1218,984.4 1217,971.9 1216,962.5 1215,962.0 1214,961.5 1213,961.0 1212,960.5 1211,960.4 1210,961.8 1209,963.1 1208,964.4 1207,967.0 1206,971.0 1205,975.0 1204,979.0 1203,981.0 1202,984.6 1201,986.1 1200,986.9 1199,987.4 1198,987.6 1197,987.6 1196,987.4 1195,987.0 1194,986.2 1193,985.4 1192,987.5 1191,997.5 1190,999.6 1189,1000.5 1188,1001.1 1187,1001.3 1186,1001.4 1185,1001.2 1184,1000.9 1183,1000.2 1182,999.0 1181,997.2 1180,995.2 1179,993.2 1178,991.2 1177,988.0 1176,983.3 1175,978.7 1174,974.0 1173,974.9 1172,989.6 1171,991.1 1170,991.9 1169,992.4 1168,992.6 1167,992.6 1166,992.4 1165,992.0 1164,991.2 1163,989.8 1162,1079.9 1161,1076.5 1160,1067.5 1159,1058.5 1158,1051.5 1157,1045.4 1156,1040.9 1155,1040.2 1154,1039.6 1153,1039.1 1152,1038.7 1151,1042.5 1150,1043.8 1149,1045.2 1148,1047.0 1147,1049.1 1146,1050.9 1145,1051.5 1144,1051.9 1143,1052.3 1142,1052.5 1141,1052.8 1140,1052.8 1139,1052.8 1138,1040.4 1137,1030.5 1136,1029.8 1135,1029.5 1134,1029.3 1133,1029.3 1132,1029.4 1131,1032.1 1130,1033.3 1129,1034.1 1128,1035.1 1127,965.1 1126,965.1 1125,965.1 1124,965.1 1123,965.1 1122,965.1 1121,965.1 1120,1022.9 1119,1013.4 1118,1005.7 1117,1003.3 1116,1001.2 1115,999.2 1114,997.4 1113,986.4 1112,979.4 1111,979.3 1110,979.3 1109,979.9 1108,986.1 1107,986.3 1106,986.8 1105,987.3 1104,987.8 1103,990.5 1102,994.2 1101,997.4 1100,997.9 1099,995.2 1098,987.3 1097,986.4 1096,990.2 1095,994.1 1094,1001.4 1093,1009.5 1092,1010.5 1091,1011.3 1090,1011.9 1089,1011.1 1088,1010.1 1087,1009.0 1086,1007.7 1085,1006.3 1084,997.9 1083,990.5 1082,985.5 1081,981.2 1080,979.9 1079,974.3 1078,968.1 1077,967.2 1076,966.5 1075,965.3 1074,964.2 1073,963.2 1072,963.5 1071,965.4 1070,967.5 1069,970.0 1068,985.7 1067,987.4 1066,988.7 1065,990.0 1064,991.0 1063,994.0 1062,998.0 1061,1002.0 1060,1006.0 1059,1004.6 1058,1008.6 1057,1008.5 1056,1008.9 1055,1009.1 1054,1009.1 1053,1009.1 1052,1008.9 1051,1008.6 1050,1008.2 1049,1007.5 1048,1003.4 1047,1000.5 1046,1000.7 1045,1001.0 1044,999.2 1043,996.9 1042,994.6 1041,992.5 1040,991.7 1039,990.9 1038,989.7 1037,985.5 1036,977.5 1035,964.0 1034,958.2 1033,955.6 1032,955.7 1031,959.5 1030,963.5 1029,965.1 1028,966.6 1027,968.2 1026,970.2 1025,972.7 1024,973.8 1023,974.3 1022,974.7 1021,974.9 1020,975.0 1019,972.2 1018,968.9 1017,965.6 1016,963.1 1015,960.2 1014,957.4 1013,956.6 1012,956.9 1011,957.3 1010,957.9 1009,966.9 1008,970.6 1007,976.9 1006,985.3 1005,992.0 1004,994.3 1003,996.0 1002,997.4 1001,993.3 1000,998.3 999,1003.3 998,1000.1 997,992.1 996,985.1 995,984.6 994,987.8 993,992.2 992,992.4 991,991.8 990,988.0 989,986.3 988,985.7 987,985.2 986,984.8 985,984.3 984,983.5 983,965.6 982,962.4 981,959.8 980,960.5 979,959.4 978,956.4 977,954.1 976,958.4 975,955.0 974,951.8 973,950.7 972,1028.0 971,1036.0 970,1044.0 969,1045.7 968,1046.4 967,1047.1 966,1048.2 965,977.8 964,975.9 963,977.8 962,978.4 961,978.8 960,979.2 959,979.4 958,981.2 957,982.9 956,982.6 955,981.6 954,977.8 953,977.7 952,978.5 951,979.4 950,980.3 949,981.1 948,981.8 947,982.6 946,983.7 945,987.8 944,991.7 943,995.6 942,999.8 941,1003.8 940,1007.6 939,985.3 938,974.0 937,973.2 936,972.2 935,971.0 934,969.5 933,964.0 932,958.0 931,952.3 930,949.0 929,948.2 928,947.8 927,945.4 926,944.8 925,939.9 924,938.7 923,938.4 922,938.2 921,938.1 920,937.9 919,937.8 918,937.6 917,937.3 916,932.3 915,933.7 914,932.3 913,941.6 912,950.6 911,956.9 910,958.7 909,960.3 908,961.8 907,963.2 906,964.4 905,963.8 904,963.1 903,968.0 902,965.0 901,960.0 900,953.8 899,950.6 898,947.0 897,932.6 896,924.7 895,1025.2 894,1016.9 893,1008.0 892,1013.4 891,1018.8 890,1024.2 889,1044.9 888,1056.1 887,1057.5 886,1058.3 885,1058.7 884,1058.9 883,1058.9 882,1058.7 881,1058.3 880,1058.0 879,1057.8 878,1058.1 877,1059.2 876,1061.0 875,1061.9 874,1062.4 873,1062.6 872,1062.7 871,1062.5 870,1062.1 869,1061.4 868,1060.1 867,1049.9 866,1048.8 865,1076.0 864,1081.6 863,1082.7 862,1083.4 861,1083.8 860,1083.9 859,1083.9 858,1083.6 857,1083.0 856,1082.1 855,1080.0 854,1073.2 853,1040.2 852,949.7 851,947.4 850,926.8 849,920.9 848,919.7 847,918.7 846,1027.6 845,1026.6 844,1025.6 843,1024.6 842,1023.6 841,1022.6 840,1021.6 839,1020.6 838,1017.4 837,1012.4 836,1007.6 835,1006.1 834,1004.6 833,1003.1 832,1001.6 831,1000.1 830,1000.1 829,911.2 828,912.1 827,913.1 826,915.5 825,919.7 824,923.8 823,926.9 822,928.9 821,931.0 820,936.0 819,943.5 818,945.8 817,946.7 816,947.7 815,948.7 814,949.7 813,950.8 812,953.8 811,955.2 810,956.5 809,957.2 808,957.9 807,958.4 806,958.6 805,953.7 804,954.6 803,950.2 802,945.0 801,942.6 800,942.3 799,942.2 798,942.1 797,942.2 796,942.4 795,942.8 794,945.6 793,948.1 792,950.6 791,952.9 790,951.1 789,947.9 788,934.7 787,1024.0 786,1025.9 785,1026.8 784,1027.3 783,1027.6 782,1027.6 781,1027.5 780,1027.1 779,1026.4 778,1025.2 777,1025.2 776,943.4 775,946.4 774,949.1 773,951.6 772,953.3 771,954.6 770,953.9 769,939.4 768,926.5 767,918.4 766,917.0 765,913.5 764,910.2 763,908.2 762,907.4 761,906.7 760,906.1 759,905.6 758,903.6 757,993.9 756,998.9 755,1003.9 754,1006.1 753,1007.3 752,1008.5 751,1009.7 750,1010.9 749,1012.1 748,1012.8 747,1013.2 746,1013.6 745,1014.0 744,1014.4 743,1014.8 742,1016.2 741,1020.1 740,937.2 739,932.0 738,931.4 737,931.5 736,931.7 735,930.3 734,930.2 733,930.1 732,930.6 731,931.3 730,932.2 729,933.2 728,934.6 727,940.8 726,941.0 725,941.5 724,941.7 723,930.5 722,910.4 721,909.9 720,908.4 719,897.2 718,896.0 717,895.0 716,894.4 715,893.9 714,893.1 713,892.3 712,891.7 711,890.4 710,988.4 709,1002.4 708,1004.5 707,1006.5 706,1008.5 705,1010.5 704,1012.5 703,1014.5 702,1016.5 701,1018.5 700,1020.4 699,1021.7 698,1023.1 697,1024.4 696,1034.6 695,1036.1 694,1036.9 693,1037.3 692,1037.6 691,1037.6 690,1037.4 689,1036.9 688,1036.1 687,1034.7 686,955.2 685,955.4 684,955.5 683,955.6 682,955.7 681,955.7 680,955.5 679,971.3 678,984.9 677,1001.0 676,1003.4 675,1005.1 674,1006.7 673,996.5 672,990.8 671,990.3 670,989.2 669,972.9 668,977.5 667,979.5 666,980.2 665,980.8 664,981.1 663,982.3 662,987.3 661,987.4 660,987.2 659,986.7 658,981.7 657,975.5 656,970.0 655,965.6 654,965.3 653,965.0 652,965.5 651,968.8 650,970.8 649,961.2 648,959.1 647,958.7 646,958.6 645,958.9 644,959.1 643,959.5 642,959.8 641,960.3 640,960.9 639,961.6 638,984.2 637,985.4 636,986.8 635,988.3 634,992.4 633,996.4 632,1000.4 631,1018.1 630,1024.7 629,1025.3 628,1019.9 627,1016.6 626,1012.6 625,1007.8 624,990.3 623,986.1 622,982.8 621,978.5 620,974.3 619,970.4 618,966.5 617,962.1 616,959.6 615,958.8 614,942.3 613,941.8 612,941.5 611,941.4 610,942.4 609,948.0 608,948.6 607,949.1 606,949.6 605,950.3 604,951.0 603,964.7 602,983.3 601,996.0 600,1008.1 599,1008.7 598,1010.5 597,1014.6 596,1015.6 595,1015.9 594,1016.0 593,1016.0 592,1015.9 591,1015.7 590,1005.6 589,986.8 588,985.7 587,974.4 586,966.9 585,966.5 584,966.2 583,966.0 582,964.8 581,963.4 580,962.6 579,962.3 578,956.9 577,985.0 576,985.3 575,985.5 574,985.6 573,985.7 572,985.8 571,985.7 570,985.5 569,985.1 568,984.4 567,962.9 566,945.6 565,948.5 564,952.8 563,953.4 562,952.9 561,978.8 560,999.0 559,980.7 558,976.5 557,976.5 556,976.3 555,976.1 554,975.9 553,975.7 552,975.4 551,974.6 550,925.8 549,923.9 548,922.7 547,921.8 546,919.3 545,914.8 544,910.3 543,907.4 542,904.6 541,904.1 540,907.0 539,910.2 538,913.5 537,915.8 536,934.2 535,939.4 534,935.5 533,928.1 532,923.9 531,923.7 530,923.6 529,923.4 528,923.3 527,945.3 526,946.3 525,946.5 524,945.4 523,944.2 522,942.9 521,938.6 520,925.4 519,905.1 518,898.5 517,877.6 516,860.1 515,845.0 514,831.2 513,829.7 512,829.5 511,829.4 510,829.5 509,829.7 508,830.4 507,836.5 506,844.4 505,845.6 504,849.4 503,853.4 502,857.2 501,851.7 500,850.9 499,850.4 498,850.0 497,849.5 496,848.9 495,846.8 494,846.7 493,846.5 492,846.4 491,848.9 490,855.4 489,861.9 488,875.7 487,877.2 486,878.3 485,883.8 484,885.2 483,886.5 482,887.7 481,888.8 480,889.2 479,886.1 478,865.9 477,858.6 476,854.4 475,850.2 474,846.7 473,849.1 472,845.5 471,839.2 470,838.2 469,837.5 468,837.0 467,835.9 466,829.3 465,823.6 464,823.7 463,823.9 462,827.3 461,831.0 460,834.8 459,838.4 458,835.9 457,839.3 456,842.6 455,845.3 454,844.7 453,844.1 452,841.3 451,837.3 450,833.8 449,833.2 448,832.6 447,832.3 446,832.1 445,832.0 444,915.0 443,960.2 442,961.9 441,963.6 440,965.7 439,971.7 438,974.3 437,976.3 436,978.3 435,980.1 434,980.3 433,980.6 432,980.8 431,981.1 430,981.3 429,981.6 428,981.8 427,982.1 426,982.3 425,983.7 424,998.6 423,999.9 422,1000.7 421,1001.1 420,1001.3 419,1001.3 418,1001.0 417,1000.6 416,999.7 415,998.1 414,905.0 413,905.0 412,905.0 411,905.0 410,905.0 409,905.0 408,905.0 407,905.0 406,905.0 405,905.0 404,905.0 403,919.5 402,936.2 401,948.7 400,960.6 399,966.6 398,972.6 397,975.3 396,975.7 395,976.1 394,976.5 393,976.9 392,977.3 391,977.8 390,978.6 389,979.4 388,980.2 387,981.0 386,981.8 385,983.4 384,998.1 383,999.1 382,999.7 381,1000.0 380,1000.1 379,999.9 378,999.6 377,999.0 376,997.9 375,985.1 374,820.6 373,852.6 372,864.1 371,871.0 370,878.4 369,891.8 368,899.3 367,913.8 366,941.8 365,968.4 364,977.8 363,987.2 362,997.5 361,1006.4 360,1008.8 359,1011.0 358,1013.0 357,1013.2 356,1011.9 355,1010.5 354,1004.5 353,1003.9 352,993.8 351,986.0 350,980.1 349,979.4 348,978.7 347,978.0 346,977.4 345,976.7 344,976.0 343,975.5 342,973.0 341,968.9 340,965.1 339,964.8 338,964.4 337,964.1 336,963.1 335,960.6 334,958.1 333,946.3 332,945.7 331,945.3 330,944.8 329,944.4 328,943.9 327,944.1 326,944.3 325,944.8 324,945.9 323,950.3 322,951.4 321,952.6 320,953.7 319,955.6 318,957.5 317,962.1 316,968.7 315,935.0 314,935.0 313,935.0 312,935.0 311,935.0 310,935.0 309,935.0 308,935.0 307,935.0 306,935.0 305,935.0 304,935.0 303,935.0 302,935.0 301,935.0 300,935.4 299,942.5 298,949.7 297,983.0 296,984.1 295,984.7 294,985.0 293,985.1 292,984.9 291,984.6 290,984.0 289,982.9 288,973.8 287,971.6 286,969.4 285,967.2 284,965.0 283,962.7 282,960.5 281,958.3 280,956.1 279,954.6 278,953.9 277,953.1 276,954.3 275,960.1 274,964.3 273,965.3 272,965.9 271,966.2 270,966.3 269,966.2 268,965.9 267,965.2 266,964.2 265,960.0 264,959.0 263,958.0 262,959.1 261,962.1 260,965.1 259,965.9 258,966.7 257,967.5 256,968.3 255,969.1 254,969.9 253,971.6 252,973.6 251,975.3 250,976.3 249,977.3 248,978.3 247,979.3 246,983.3 245,995.1 244,998.0 243,999.1 242,999.6 241,1000.0 240,1000.1 239,1000.0 238,999.6 237,999.0 236,998.0 235,996.0 234,995.2 233,989.3 232,981.8 231,976.5 230,977.1 229,978.0 228,979.0 227,979.6 226,980.0 225,980.1 224,980.0 223,979.7 222,979.5 221,979.3 220,979.1 219,978.9 218,979.3 217,979.9 216,980.5 215,981.1 214,981.7 213,982.3 212,983.6 211,985.1 210,803.8Z" fill="#000" stroke="#000" stroke-width="1.2" stroke-linejoin="round"/>
<path d="M210,652.6 211,652.6 212,652.2 213,651.3 214,650.6 215,650.2 216,650.1 217,650.1 218,650.4 219,650.9 220,651.8 221,653.7 222,675.3 223,675.9 224,672.4 225,668.9 226,665.4 227,661.9 228,657.3 229,627.6 230,625.6 231,624.7 232,624.1 233,623.9 234,623.8 235,624.0 236,624.4 237,625.0 238,626.3 239,660.5 240,667.5 241,668.6 242,669.6 243,670.6 244,671.6 245,672.6 246,673.6 247,691.5 248,715.7 249,739.9 250,727.2 251,673.9 252,620.6 253,588.3 254,545.9 255,544.8 256,544.2 257,543.9 258,543.8 259,543.9 260,544.2 261,544.8 262,545.8 263,573.5 264,530.0 265,492.9 266,431.0 267,370.7 268,301.4 269,300.1 270,299.3 271,298.9 272,298.7 273,298.7 274,299.0 275,299.4 276,300.3 277,301.9 278,399.9 279,440.0 280,480.0 281,637.0 282,667.1 283,685.5 284,701.8 285,709.8 286,717.8 287,725.8 288,746.2 289,781.2 290,816.2 291,838.8 292,860.9 293,883.0 294,936.0 295,964.8 296,964.4 297,963.9 298,963.5 299,963.0 300,962.6 301,947.3 302,931.3 303,922.3 304,921.8 305,921.3 306,920.8 307,920.3 308,919.8 309,919.3 310,918.8 311,918.3 312,917.8 313,917.3 314,881.6 315,870.0 316,858.3 317,846.6 318,839.2 319,837.0 320,834.7 321,832.5 322,830.3 323,828.1 324,819.1 325,817.0 326,816.0 327,815.5 328,815.2 329,815.2 330,815.3 331,815.7 332,816.3 333,817.5 334,841.1 335,846.1 336,851.1 337,853.1 338,853.8 339,854.5 340,855.1 341,855.8 342,856.5 343,857.1 344,857.9 345,859.1 346,860.3 347,861.5 348,862.7 349,863.9 350,865.1 351,865.8 352,866.0 353,866.1 354,866.2 355,877.5 356,880.0 357,882.5 358,882.3 359,878.5 360,874.6 361,870.8 362,867.0 363,863.1 364,859.3 365,855.5 366,809.1 367,759.1 368,735.9 369,715.1 370,694.3 371,685.4 372,677.6 373,669.8 374,632.3 375,631.2 376,630.5 377,630.2 378,630.1 379,630.2 380,630.5 381,631.0 382,632.0 383,672.8 384,684.8 385,713.8 386,742.8 387,753.2 388,754.0 389,754.8 390,755.6 391,756.4 392,757.2 393,760.6 394,767.8 395,775.0 396,782.2 397,789.4 398,796.6 399,801.6 400,794.7 401,787.9 402,781.0 403,774.2 404,767.3 405,760.4 406,753.6 407,746.7 408,736.0 409,719.5 410,703.0 411,686.5 412,670.0 413,658.3 414,656.7 415,655.8 416,655.4 417,655.1 418,655.1 419,655.3 420,655.7 421,656.5 422,657.8 423,683.8 424,705.8 425,727.8 426,767.0 427,808.2 428,804.4 429,795.1 430,785.9 431,776.6 432,767.4 433,758.1 434,750.1 435,749.9 436,749.7 437,749.5 438,749.3 439,749.0 440,748.9 441,749.0 442,749.2 443,749.4 444,749.5 445,749.7 446,749.9 447,750.0 448,750.5 449,751.5 450,752.5 451,753.5 452,754.5 453,755.5 454,756.5 455,757.5 456,751.7 457,744.9 458,738.1 459,731.3 460,724.5 461,717.7 462,711.5 463,710.2 464,709.5 465,709.1 466,708.9 467,708.9 468,709.1 469,709.6 470,710.5 471,712.1 472,724.3 473,730.9 474,737.6 475,744.2 476,749.5 477,754.5 478,759.5 479,764.5 480,769.5 481,768.0 482,765.5 483,763.0 484,760.5 485,758.0 486,747.4 487,746.3 488,745.6 489,745.3 490,745.1 491,745.1 492,745.1 493,745.1 494,745.1 495,745.1 496,745.1 497,745.2 498,745.4 499,745.9 500,746.7 501,748.4 502,759.6 503,752.6 504,745.6 505,738.6 506,731.6 507,724.6 508,713.4 509,711.7 510,710.9 511,710.4 512,710.2 513,710.1 514,710.3 515,710.7 516,711.4 517,712.8 518,728.5 519,752.5 520,792.5 521,818.5 522,827.0 523,829.7 524,832.4 525,835.0 526,835.5 527,836.0 528,836.5 529,837.0 530,837.5 531,838.0 532,838.5 533,847.2 534,862.5 535,872.5 536,864.5 537,829.9 538,828.7 539,827.5 540,826.3 541,826.0 542,825.7 543,825.2 544,824.9 545,824.8 546,824.9 547,825.2 548,825.8 549,826.8 550,829.2 551,830.0 552,829.7 553,829.5 554,829.4 555,829.6 556,829.9 557,830.6 558,831.0 559,840.0 560,878.0 561,879.8 562,880.8 563,881.8 564,880.6 565,871.9 566,866.0 567,865.3 568,864.5 569,864.3 570,864.2 571,864.1 572,864.0 573,863.9 574,863.8 575,864.0 576,864.3 577,865.0 578,866.2 579,886.9 580,884.1 581,882.4 582,881.8 583,881.6 584,881.4 585,881.3 586,881.4 587,881.7 588,882.3 589,883.3 590,920.3 591,940.2 592,940.5 593,940.8 594,941.0 595,941.3 596,941.6 597,941.8 598,942.1 599,942.3 600,942.6 601,919.5 602,895.7 603,873.0 604,854.8 605,853.8 606,852.8 607,852.3 608,851.7 609,851.4 610,851.3 611,851.4 612,851.7 613,852.3 614,853.3 615,886.3 616,887.8 617,888.0 618,888.3 619,888.5 620,888.8 621,889.8 622,890.8 623,891.8 624,899.3 625,933.3 626,941.7 627,948.7 628,951.5 629,949.1 630,946.7 631,932.9 632,897.0 633,889.0 634,881.0 635,873.0 636,870.7 637,868.8 638,868.5 639,868.1 640,867.7 641,867.6 642,867.6 643,867.9 644,868.2 645,868.5 646,868.7 647,869.8 648,871.3 649,876.3 650,896.3 651,897.8 652,898.0 653,898.3 654,898.5 655,898.8 656,899.7 657,900.7 658,905.6 659,913.8 660,913.8 661,913.8 662,913.3 663,903.2 664,901.1 665,900.8 666,900.3 667,900.1 668,900.1 669,900.3 670,900.7 671,900.9 672,901.2 673,911.9 674,932.0 675,928.8 676,925.6 677,921.1 678,889.8 679,863.7 680,863.0 681,862.4 682,861.7 683,861.2 684,860.9 685,860.7 686,860.3 687,860.1 688,860.1 689,860.3 690,860.7 691,861.4 692,862.8 693,891.1 694,895.5 695,894.3 696,888.3 697,882.3 698,877.8 699,875.5 700,873.2 701,870.8 702,863.9 703,854.6 704,845.2 705,835.9 706,791.0 707,790.2 708,789.4 709,785.8 710,764.8 711,763.3 712,762.5 713,762.1 714,761.9 715,761.9 716,762.1 717,762.6 718,763.4 719,764.9 720,786.9 721,789.7 722,790.7 723,831.1 724,854.0 725,854.3 726,854.6 727,854.9 728,843.2 729,841.6 730,840.8 731,840.3 732,840.1 733,840.1 734,840.2 735,840.5 736,840.7 737,840.9 738,841.1 739,842.8 740,853.8 741,850.8 742,846.0 743,841.2 744,839.8 745,839.4 746,839.0 747,838.7 748,838.3 749,837.9 750,837.6 751,827.8 752,823.5 753,823.0 754,822.5 755,822.0 756,821.5 757,800.0 758,798.9 759,797.9 760,797.3 761,797.0 762,796.9 763,797.0 764,797.3 765,797.9 766,799.0 767,800.0 768,815.0 769,840.3 770,869.0 771,870.4 772,867.9 773,864.7 774,860.3 775,856.0 776,851.7 777,849.7 778,848.9 779,848.2 780,847.7 781,847.6 782,847.6 783,847.8 784,848.3 785,848.9 786,849.3 787,849.7 788,850.0 789,859.7 790,862.3 791,865.0 792,859.2 793,853.2 794,847.2 795,840.9 796,839.9 797,839.3 798,838.9 799,838.8 800,838.9 801,839.2 802,839.8 803,840.8 804,848.3 805,857.8 806,867.3 807,866.6 808,865.6 809,864.6 810,863.6 811,861.9 812,860.9 813,860.4 814,860.1 815,860.1 816,860.2 817,860.6 818,861.3 819,859.3 820,846.8 821,839.3 822,837.6 823,836.0 824,832.4 825,826.6 826,820.7 827,817.4 828,817.0 829,816.7 830,816.3 831,816.0 832,815.6 833,815.2 834,813.7 835,810.7 836,807.7 837,804.7 838,801.7 839,799.7 840,798.9 841,796.9 842,795.9 843,795.4 844,795.1 845,795.0 846,795.2 847,795.6 848,796.2 849,797.4 850,807.8 851,847.8 852,851.0 853,852.0 854,853.0 855,854.0 856,855.0 857,862.6 858,870.6 859,892.7 860,921.3 861,901.3 862,872.2 863,871.2 864,870.5 865,870.2 866,870.1 867,870.2 868,870.5 869,871.1 870,871.7 871,872.1 872,872.5 873,872.0 874,871.2 875,870.4 876,869.6 877,868.8 878,868.0 879,865.6 880,861.1 881,856.6 882,852.1 883,847.6 884,839.9 885,827.9 886,815.9 887,813.2 888,811.6 889,810.8 890,810.3 891,810.1 892,810.1 893,810.3 894,810.7 895,811.4 896,812.9 897,826.3 898,853.0 899,858.1 900,861.5 901,864.8 902,865.8 903,866.5 904,867.3 905,868.0 906,868.8 907,866.3 908,863.6 909,860.8 910,858.1 911,855.3 912,844.4 913,832.7 914,821.1 915,817.9 916,815.7 917,814.7 918,814.2 919,813.9 920,813.8 921,813.9 922,814.3 923,815.0 924,816.1 925,819.7 926,829.9 927,844.9 928,851.8 929,854.5 930,857.2 931,859.8 932,867.3 933,875.3 934,880.7 935,882.2 936,883.7 937,885.2 938,886.7 939,909.2 940,954.0 941,946.8 942,939.6 943,932.4 944,925.2 945,918.0 946,910.8 947,909.6 948,909.1 949,908.6 950,908.1 951,907.6 952,907.2 953,906.8 954,906.4 955,906.0 956,905.6 957,905.2 958,901.2 959,897.4 960,896.9 961,896.4 962,895.9 963,895.4 964,892.8 965,886.8 966,880.8 967,874.8 968,869.0 969,867.7 970,866.9 971,866.5 972,866.3 973,866.4 974,866.6 975,867.1 976,867.9 977,869.7 978,873.2 979,878.2 980,879.4 981,877.0 982,876.0 983,875.5 984,875.2 985,875.1 986,875.2 987,875.6 988,876.2 989,877.4 990,881.1 991,889.1 992,891.0 993,892.0 994,893.0 995,894.0 996,895.0 997,909.0 998,925.0 999,931.4 1000,921.4 1001,911.4 1002,907.8 1003,905.1 1004,902.4 1005,898.8 1006,887.8 1007,876.8 1008,870.3 1009,868.9 1010,868.2 1011,867.8 1012,867.6 1013,867.6 1014,867.9 1015,868.3 1016,869.2 1017,870.8 1018,876.3 1019,882.3 1020,887.5 1021,887.1 1022,886.7 1023,886.3 1024,885.9 1025,884.6 1026,882.0 1027,881.0 1028,880.5 1029,880.2 1030,880.1 1031,880.2 1032,880.6 1033,881.2 1034,882.3 1035,889.0 1036,903.0 1037,905.9 1038,906.9 1039,907.9 1040,908.9 1041,909.9 1042,914.1 1043,918.7 1044,923.4 1045,927.6 1046,927.8 1047,928.0 1048,928.2 1049,928.4 1050,928.6 1051,928.8 1052,929.0 1053,929.2 1054,929.4 1055,929.6 1056,929.8 1057,930.0 1058,932.5 1059,936.5 1060,939.4 1061,931.4 1062,923.4 1063,915.4 1064,909.4 1065,907.4 1066,905.4 1067,903.4 1068,901.4 1069,883.5 1070,881.7 1071,880.9 1072,880.4 1073,880.1 1074,880.1 1075,880.3 1076,880.7 1077,881.4 1078,882.7 1079,894.6 1080,905.3 1081,907.3 1082,909.3 1083,911.3 1084,917.9 1085,932.8 1086,934.8 1087,936.8 1088,938.8 1089,940.8 1090,942.6 1091,941.8 1092,941.0 1093,940.2 1094,939.4 1095,938.6 1096,937.8 1097,937.2 1098,936.7 1099,936.2 1100,935.7 1101,935.2 1102,929.4 1103,922.4 1104,917.4 1105,916.9 1106,916.4 1107,915.9 1108,915.4 1109,902.3 1110,900.5 1111,899.6 1112,899.1 1113,898.9 1114,898.9 1115,899.0 1116,899.4 1117,900.1 1118,901.4 1119,913.0 1120,927.1 1121,959.1 1122,987.4 1123,1014.9 1124,1020.1 1125,1020.1 1126,1020.1 1127,991.4 1128,941.7 1129,940.3 1130,939.5 1131,939.1 1132,938.9 1133,938.9 1134,939.1 1135,939.6 1136,940.4 1137,942.0 1138,961.4 1139,984.7 1140,983.4 1141,982.1 1142,980.7 1143,979.4 1144,978.1 1145,976.7 1146,975.4 1147,971.9 1148,967.9 1149,964.9 1150,963.1 1151,962.2 1152,961.7 1153,961.4 1154,961.4 1155,961.5 1156,961.9 1157,962.7 1158,963.9 1159,966.3 1160,970.3 1161,974.3 1162,976.7 1163,978.7 1164,980.7 1165,983.7 1166,1010.7 1167,1037.7 1168,1050.2 1169,1050.2 1170,1050.2 1171,1050.2 1172,1045.4 1173,1039.4 1174,1035.0 1175,1034.4 1176,1033.8 1177,1033.2 1178,1032.6 1179,1032.0 1180,1031.4 1181,1030.8 1182,1030.0 1183,1028.9 1184,1028.2 1185,1027.8 1186,1027.7 1187,1027.7 1188,1028.0 1189,1028.5 1190,1029.4 1191,1031.5 1192,1032.3 1193,1031.3 1194,1028.6 1195,1025.9 1196,1020.0 1197,1018.1 1198,1017.2 1199,1016.7 1200,1016.5 1201,1016.4 1202,1016.6 1203,1017.0 1204,1017.7 1205,1018.9 1206,1032.8 1207,1035.9 1208,1036.9 1209,1037.9 1210,1038.9 1211,1039.9 1212,1042.2 1213,1044.9 1214,1047.5 1215,1050.2 1216,1050.2 1217,1050.2 1218,1050.2 1219,1050.2 1220,1050.2 1221,1050.2 1222,1050.2 1223,1046.1 1224,1038.8 1225,1037.6 1226,1036.9 1227,1036.6 1228,1036.4 1229,1036.5 1230,1036.7 1231,1037.3 1232,1038.2 1233,1040.2 1234,1065.7 1235,1077.7 1236,1089.7 1237,1089.2 1238,1084.5 1239,1079.8 1240,1075.2 1241,1073.6 1242,1067.6 1243,1066.4 1244,1065.7 1245,1065.3 1246,1065.2 1247,1065.2 1248,1065.5 1249,1066.0 1250,1066.9 1251,1068.9 1252,1069.8 1253,1070.9 1254,1072.4 1255,1073.9 1256,1075.4 1257,1076.9 1258,1073.7 1259,1065.7 1260,1057.7 1261,1052.2 1262,1051.2 1263,1050.6 1264,1050.3 1265,1050.2 1266,1050.3 1267,1050.6 1268,1051.2 1269,1051.6 1270,1051.9 1271,1052.3 1272,1052.7 1273,1050.9 1274,1046.9 1275,1042.9 1276,1040.7 1277,1038.7 1278,1037.5 1279,1037.3 1280,1037.1 1281,1036.9 1282,1036.7 1283,1036.4 1284,1036.3 1285,1036.5 1286,1036.8 1287,1037.5 1288,1038.6 1289,1074.5 1290,1071.2 1291,1067.9 1292,1064.5 1293,1062.4 1294,1061.9 1295,1061.4 1296,1060.9 1297,1060.4 1298,1059.9 1299,1059.4 1300,1058.9 1301,1058.4 1302,1057.4 1303,1056.8 1304,1056.4 1305,1056.3 1306,1056.4 1307,1056.7 1308,1057.3 1309,1058.3 1310,1062.0 1311,1059.3 1312,1056.7 1313,1054.9 1314,1054.4 1315,1053.9 1316,1053.4 1317,1052.9 1318,1052.4 1319,1051.9 1320,1051.4 1321,1051.1 1322,1050.8 1323,1050.5 1324,1050.2 1325,1050.1 1326,1050.2 1327,1050.5 1328,1051.0 1329,1051.4 1330,1051.7 1331,1052.0 1332,1052.4 1333,1054.7 1334,1060.0 1335,1065.3 1336,1070.7 1337,1072.4 1338,1072.1 1339,1071.8 1340,1071.5 1341,1071.3 1342,1071.0 1343,1070.7 1344,1070.4 1345,1070.1 1346,1059.4 1347,1057.0 1348,1056.0 1349,1055.4 1350,1055.1 1351,1055.1 1352,1055.2 1353,1055.6 1354,1056.2 1355,1057.3 1356,1041.7 1357,1023.7 1358,1012.3 1359,1011.2 1360,1010.5 1361,1010.2 1362,1010.1 1363,1010.1 1364,1010.4 1365,1011.0 1366,1012.0 1367,1014.5 1368,1033.4 1369,1024.2 1370,1011.7 1371,1009.8 1372,1009.6 1373,1009.3 1374,1008.9 1375,1008.8 1376,1008.9 1377,1009.2 1378,1009.7 1379,1010.7 1380,1013.2 1381,1022.3 1382,1025.9 1383,1027.2 1384,1028.5 1385,1029.9 1386,1034.7 1387,1040.0 1388,1045.3 1389,1050.1 1390,1050.1 1391,1050.1 1392,1050.1 1393,1050.1 1394,1050.1 1395,1050.1 1396,1037.2 1397,1031.0 1398,1030.2 1399,1029.4 1400,1029.0 1401,1028.8 1402,1028.8 1403,1029.1 1404,1029.6 1405,1030.4 1406,1032.0 1407,1051.2 1408,1062.7 1409,1070.2 1410,1077.7 1411,1078.8 1412,1078.8 1413,1078.8 1414,1078.8 1415,1078.8 1416,1078.8 1417,1078.8 1418,1031.1 1419,1021.6 1420,1020.5 1421,1019.4 1422,1003.9 1423,998.8 1424,993.3 1425,984.7 1426,978.9 1427,974.5 1428,970.2 1429,966.2 1430,965.8 1431,965.2 1432,964.4 1433,964.0 1434,963.8 1435,963.8 1436,964.0 1437,964.5 1438,965.3 1439,966.7 1440,971.9 1441,975.9 1442,978.3 1443,979.7 1444,981.0 1445,982.3 1446,998.0 1447,1003.5 1448,1015.8 1449,1006.1 1450,1005.0 1451,1004.3 1452,1003.9 1453,1003.8 1454,1003.9 1455,1004.2 1456,1004.7 1457,1005.6 1458,1007.9 1459,1014.2 1460,1019.2 1461,1025.8 1462,1032.8 1463,1029.4 1464,1003.9 1465,979.4 1466,974.4 1467,973.2 1468,972.5 1469,972.2 1470,972.0 1471,972.1 1472,972.4 1473,972.9 1474,973.8 1475,974.8 1476,977.7 1477,994.1 1478,1003.9 1479,1028.5 1480,1023.5 1481,1022.1 1482,1021.2 1483,1020.6 1484,1020.2 1485,1020.1 1486,1020.1 1487,1020.4 1488,1020.9 1489,1021.9 1490,1024.1 1491,1004.7 1492,979.8 1493,971.0 1494,958.8 1495,945.0 1496,931.1 1497,924.7 1498,924.2 1499,923.3 1500,922.3 1501,921.3 1502,912.5 1503,870.2 1504,844.3 1505,835.3 1506,827.5 1507,827.0 1508,826.5 1509,826.0 1510,825.5 1511,825.0 1512,824.3 1513,823.7 1514,823.0 1515,800.2 1516,746.7 1517,721.7 1518,696.7 1519,687.3 1520,686.9 1521,686.5 1522,686.1 1523,685.7 1524,685.3 1525,672.1 1526,642.4 1527,639.9 1528,638.9 1529,638.4 1530,638.1 1531,638.0 1532,638.1 1533,638.5 1534,639.1 1535,640.3 1536,646.3 1537,676.3 1538,679.6 1539,679.1 1540,678.6 1541,678.1 1542,677.6 1543,675.4 1544,671.5 1545,670.1 1546,669.4 1547,669.0 1548,668.8 1549,668.8 1550,669.1 1551,669.5 1552,670.4 1553,672.1 1554,687.9 1555,695.8 1556,697.8 1557,699.8 1558,705.2 1559,711.2 1560,715.2 1561,715.5 1562,715.8 1563,716.2 1564,716.5 1565,716.8 1566,717.2 1567,717.5 1568,716.4 1569,715.1 1570,713.7 1571,711.8 1572,710.7 1573,710.0 1574,709.7 1575,709.6 1576,709.6 1577,709.9 1578,710.5 1579,711.4 1580,713.8 1581,725.3 1582,733.8 1583,734.4 1584,733.6 1585,732.8 1586,732.0 1587,731.2 1588,730.4 1589,722.9 1590,710.9 1591,700.0 1592,699.0 1593,698.0 1594,697.4 1595,697.1 1596,697.0 1597,697.2 1598,697.5 1599,698.1 1600,699.3 1601,701.4 1602,715.4 1603,718.1 1604,718.8 1605,719.5 1606,721.5 1607,710.2 1608,709.4 1609,708.7 1610,707.9 1611,707.2 1612,706.4 1613,706.2 1614,705.9 1615,705.7 1616,705.4 1617,705.2 1618,681.3 1619,674.7 1620,673.5 1621,672.4 1622,671.8 1623,671.4 1624,671.3 1625,671.4 1626,671.6 1627,672.2 1628,673.1 1629,674.8 1630,690.8 1631,714.2 1632,713.5 1633,712.8 1634,712.2 1635,711.5 1636,710.8 1637,710.2 1638,688.5 1639,686.7 1640,685.8 1641,685.3 1642,685.1 1643,685.1 1644,685.2 1645,685.6 1646,686.3 1647,687.6 1648,689.9 1649,678.5 1650,669.8 1651,669.0 1652,668.3 1653,667.5 1654,666.8 1655,657.2 1656,637.8 1657,625.6 1658,624.1 1659,623.3 1660,622.9 1661,622.6 1662,622.5 1663,622.6 1664,622.9 1665,623.4 1666,624.3 1667,626.5 1668,651.8 1669,665.8 1670,666.9 1671,667.9 1672,668.9 1673,669.9 1674,672.3 1675,673.8 1676,673.0 1677,651.6 1678,639.4 1679,637.9 1680,637.1 1681,636.6 1682,636.4 1683,636.3 1684,636.4 1685,636.7 1686,637.3 1687,638.4 1688,647.0 1689,666.2 1690,671.0 1691,671.9 1692,672.8 1693,673.6 1694,682.7 1695,688.1 1696,678.1 1697,672.0 1698,671.0 1699,670.4 1700,670.1 1701,670.0 1702,670.1 1703,670.4 1704,670.8 1705,671.6 1706,672.0 1707,669.0 1708,666.0 1709,663.9 1710,663.0 1711,662.5 1712,662.2 1713,662.1 1714,662.3 1715,662.7 1716,663.3 1717,664.5 1718,672.6 1719,689.2 1720,691.8 1721,693.6 1722,695.3 1723,697.1 1724,696.6 1725,695.0 1726,693.5 1727,595.7 1728,579.3 1729,578.2 1730,577.5 1731,577.2 1732,577.1 1733,577.2 1734,577.5 1735,578.1 1736,579.1 1737,582.0 1738,600.0 1739,640.8 1740,647.5 1741,641.5 1742,635.5 1743,634.6 1744,634.0 1745,632.7 1746,631.9 1747,631.5 1748,631.3 1749,631.3 1750,631.5 1751,632.0 1752,632.8 1753,634.3 1754,648.7 1755,668.7 1756,670.4 1757,670.7 1758,671.0 1759,671.2 1760,671.3 1761,671.5 1762,671.8 1763,672.5 1764,673.8 1765,700.5 1766,703.2 1767,703.7 1768,704.2 1769,704.7 1770,704.5 1771,702.5 1772,700.4 1773,699.3 1774,698.4 1775,697.9 1776,697.6 1777,697.6 1778,697.7 1779,698.1 1780,698.8 1781,700.0 1782,723.5 1783,738.0 1784,738.4 1785,738.8 1786,739.2 1787,739.6 1788,739.8 1789,728.3 1790,694.6 1791,693.0 1792,692.1 1793,691.6 1794,691.3 1795,691.3 1796,691.5 1797,691.8 1798,692.5 1799,693.8 1800,708.0 1801,716.2 1802,722.9 1803,729.5 1804,736.2 1805,745.8 1806,757.9 1807,759.0 1808,760.1 1809,764.0 1810,766.8 1811,770.8 1812,774.8 1813,789.6 1814,795.2 1815,795.3 1816,795.4 1817,795.5 1818,795.5 1819,795.6 1820,795.7 1821,795.7 1822,795.8 1823,795.9 1824,796.0 1825,796.0 1826,796.1 1827,796.2 1828,796.2 1829,796.3 1830,796.4 1831,796.3 1832,795.3 1833,694.8 1834,653.7 1835,653.5 1836,653.3 1837,653.1 1838,652.9 1839,652.7 1840,562.3 1841,561.6 1842,560.0 1843,559.0 1844,558.5 1845,558.2 1846,558.1 1847,558.2 1848,558.6 1849,559.2 1850,560.4 1851,566.7 1852,598.7 1853,681.7 1854,715.8 1855,716.8 1856,717.8 1857,718.8 1858,747.8 1859,738.7 1860,704.4 1861,699.2 1862,698.1 1863,697.0 1864,695.8 1865,620.6 1866,442.6 1867,422.6 1868,393.8 1869,392.1 1870,391.3 1871,390.8 1872,390.5 1873,390.5 1874,390.7 1875,391.1 1876,391.9 1877,393.2 1878,458.5 1879,594.0 1880,665.9 1881,667.9 1882,669.9 1883,701.2 1884,715.2 1885,715.2 1886,715.2 1887,715.2 1888,701.9 1889,687.2 1890,686.6 1891,685.9 1892,685.2 1893,572.4 1894,571.2 1895,570.6 1896,570.2 1897,570.1 1898,570.2 1899,570.5 1900,571.0 1901,572.0 1902,574.0 1903,574.8 1904,691.7 1905,739.7 1906,760.8 1907,766.7 1908,772.5 1909,778.4 1910,784.3 1911,780.5 1912,774.9 1913,769.4 1914,763.8 1915,703.9 1916,556.1 1917,541.1 1918,526.1 1919,501.0 1920,478.6 1921,477.4 1922,476.8 1923,476.4 1924,476.3 1925,476.4 1926,476.7 1927,477.2 1928,478.2 1929,480.5 1930,636.5 1931,638.2 1932,639.9 1933,642.2 1934,644.7 1935,646.6 1936,647.3 1937,647.9 1938,648.6 1939,691.6 1940,735.9 1941,723.3 1942,710.6 1943,697.9 1944,689.7 1945,684.7 1946,678.7 1947,677.5 1948,676.9 1949,676.5 1950,676.4 1951,676.5 1952,676.8 1953,677.3 1954,678.2 1955,680.5 1956,690.2 1957,690.4 1958,690.7 1959,690.9 1960,691.2 1961,691.5 1962,692.2 1963,693.0 1964,693.7 1965,694.5 1966,696.2 1967,710.2 1968,713.2 1969,713.9 1970,714.5 1971,716.0 1972,728.0 1973,730.6 1974,731.1 1975,731.6 1976,732.1 1977,732.6 1978,736.8 1979,741.8 1980,745.2 1981,815.2 1982,816.2 1983,817.2 1984,818.2 1985,820.9 1986,827.4 1987,833.9 1988,813.7 1989,800.9 1990,799.5 1991,798.7 1992,798.3 1993,798.1 1994,798.1 1995,798.3 1996,798.8 1997,799.6 1998,801.2 1999,803.1 2000,804.1 2001,805.1 2002,806.1 2003,828.3 2004,840.5 2005,841.3 2006,842.0 2007,842.8 2008,843.5 2009,844.0 2010,844.2 2011,844.5 2012,844.7 2013,845.0 2014,852.9 2015,867.9 2016,884.9 2017,901.9 2018,904.9 2019,904.7 2020,904.4 2021,904.2 2022,903.9 2023,903.7 2024,903.4 2025,903.2 2026,902.9 2027,902.7 2028,885.0 2029,874.7 2030,874.1 2031,873.4 2032,872.7 2033,859.8 2034,814.7 2035,745.7 2036,677.4 2037,640.0 2038,649.8 2039,630.5 2040,629.0 2041,628.3 2042,627.8 2043,627.6 2044,627.7 2045,627.9 2046,628.3 2047,629.1 2048,630.7 2049,633.2 2050,634.2 2051,635.2 2052,636.2 2053,637.2 2054,640.1 2055,779.2 2056,776.2 2057,773.2 2058,772.4 2059,772.1 2060,771.8 2061,771.5 2062,771.3 2063,771.4 2064,771.6 2065,772.0 2066,772.3 2067,772.5 2068,722.3 2069,691.7 2070,690.2 2071,689.4 2072,689.0 2073,688.8 2074,688.8 2075,689.0 2076,689.5 2077,690.3 2078,691.8 2079,728.5 2080,784.0 2081,807.0 2082,830.0 2083,860.0 2084,875.1 2085,875.1 2086,875.1 2087,875.1 2088,875.1 2089,875.1 2090,875.1 2091,875.1 2092,875.1 2092,1127.6 2091,1127.6 2090,1128.3 2089,1128.9 2088,1129.6 2087,1130.3 2086,1131.1 2085,1133.0 2084,1134.1 2083,1134.7 2082,1135.0 2081,1135.1 2080,1135.0 2079,1134.7 2078,1134.1 2077,1133.1 2076,1116.7 2075,1103.7 2074,1071.3 2073,1036.0 2072,1006.0 2071,1032.6 2070,1081.4 2069,1096.5 2068,1098.5 2067,1100.5 2066,1102.5 2065,1129.7 2064,1140.1 2063,1141.3 2062,1142.0 2061,1142.4 2060,1142.6 2059,1142.6 2058,1142.3 2057,1141.8 2056,1140.9 2055,1139.1 2054,1051.7 2053,1050.5 2052,1049.3 2051,1048.1 2050,1046.9 2049,1045.7 2048,1041.7 2047,1034.4 2046,1027.0 2045,1019.7 2044,1027.4 2043,1041.4 2042,1052.8 2041,1054.0 2040,1055.2 2039,1056.4 2038,1057.6 2037,1058.8 2036,1060.0 2035,1131.2 2034,1133.3 2033,1134.2 2032,1134.8 2031,1135.0 2030,1135.1 2029,1135.0 2028,1134.6 2027,1133.9 2026,1132.7 2025,1097.9 2024,1086.9 2023,1085.9 2022,1085.3 2021,1086.5 2020,1090.4 2019,1091.5 2018,1092.1 2017,1092.5 2016,1092.6 2015,1092.5 2014,1092.2 2013,1091.6 2012,1090.6 2011,1085.3 2010,1081.3 2009,1078.7 2008,1076.7 2007,1074.7 2006,1072.7 2005,1070.7 2004,1063.2 2003,1053.2 2002,1045.0 2001,1044.8 2000,1044.6 1999,1044.4 1998,1044.2 1997,1044.0 1996,1043.8 1995,1046.6 1994,1049.6 1993,1052.6 1992,1055.6 1991,1058.6 1990,1061.6 1989,1064.6 1988,1067.6 1987,1072.9 1986,1091.9 1985,1093.5 1984,1094.4 1983,1094.8 1982,1095.1 1981,1095.1 1980,1094.9 1979,1094.4 1978,1093.7 1977,1092.3 1976,1066.6 1975,1046.6 1974,1030.8 1973,1017.1 1972,997.5 1971,979.2 1970,963.0 1969,957.5 1968,957.4 1967,957.2 1966,957.0 1965,956.9 1964,956.7 1963,956.5 1962,956.4 1961,956.1 1960,955.9 1959,955.6 1958,955.4 1957,955.3 1956,956.3 1955,957.3 1954,958.3 1953,959.3 1952,960.2 1951,960.3 1950,960.5 1949,960.6 1948,960.7 1947,960.9 1946,961.0 1945,961.2 1944,961.4 1943,961.4 1942,961.2 1941,960.8 1940,960.0 1939,958.6 1938,956.0 1937,952.0 1936,948.0 1935,944.0 1934,939.7 1933,935.2 1932,931.4 1931,931.5 1930,931.7 1929,931.8 1928,931.9 1927,932.1 1926,932.2 1925,932.3 1924,932.5 1923,932.6 1922,1013.4 1921,1015.8 1920,1016.8 1919,1017.3 1918,1017.6 1917,1017.7 1916,1017.5 1915,1017.2 1914,1016.5 1913,1015.4 1912,1013.7 1911,1012.5 1910,1011.2 1909,1010.0 1908,1008.7 1907,1007.3 1906,1004.5 1905,1001.7 1904,998.9 1903,996.1 1902,993.3 1901,990.5 1900,936.8 1899,920.6 1898,929.1 1897,936.5 1896,937.1 1895,937.7 1894,938.3 1893,938.9 1892,939.5 1891,940.1 1890,940.8 1889,942.5 1888,943.8 1887,944.5 1886,944.9 1885,945.1 1884,945.1 1883,944.9 1882,944.4 1881,943.5 1880,941.8 1879,929.5 1878,920.5 1877,912.4 1876,910.9 1875,909.4 1874,907.9 1873,906.4 1872,905.3 1871,906.8 1870,908.3 1869,909.8 1868,911.3 1867,912.7 1866,913.4 1865,914.0 1864,914.7 1863,915.4 1862,916.0 1861,916.7 1860,917.4 1859,918.6 1858,920.2 1857,921.8 1856,923.4 1855,925.0 1854,926.6 1853,928.4 1852,930.4 1851,932.4 1850,934.4 1849,935.9 1848,937.1 1847,938.3 1846,939.5 1845,940.7 1844,941.9 1843,945.3 1842,952.6 1841,960.0 1840,967.3 1839,979.9 1838,990.6 1837,994.1 1836,995.3 1835,995.9 1834,996.3 1833,996.4 1832,996.3 1831,996.1 1830,995.5 1829,994.5 1828,992.2 1827,988.1 1826,968.1 1825,948.1 1824,938.6 1823,936.1 1822,933.6 1821,931.1 1820,928.6 1819,924.6 1818,919.6 1817,915.1 1816,914.8 1815,914.5 1814,914.2 1813,914.0 1812,913.7 1811,913.4 1810,913.1 1809,912.8 1808,912.6 1807,903.2 1806,906.3 1805,909.4 1804,910.9 1803,911.9 1802,912.9 1801,913.9 1800,914.9 1799,918.2 1798,922.2 1797,926.4 1796,928.4 1795,929.3 1794,929.8 1793,930.1 1792,930.1 1791,930.0 1790,929.6 1789,928.9 1788,927.7 1787,924.3 1786,921.0 1785,917.7 1784,914.3 1783,909.7 1782,903.7 1781,897.7 1780,891.7 1779,889.8 1778,889.3 1777,888.8 1776,888.3 1775,887.8 1774,887.3 1773,886.8 1772,886.3 1771,885.8 1770,885.3 1769,883.2 1768,880.5 1767,877.8 1766,875.2 1765,861.3 1764,856.9 1763,855.9 1762,854.9 1761,853.9 1760,852.9 1759,851.9 1758,850.9 1757,849.9 1756,848.9 1755,847.9 1754,848.3 1753,849.3 1752,850.2 1751,850.7 1750,851.2 1749,851.7 1748,852.2 1747,856.3 1746,858.3 1745,859.3 1744,859.8 1743,860.1 1742,860.1 1741,860.0 1740,859.6 1739,858.9 1738,858.4 1737,858.0 1736,857.6 1735,855.0 1734,852.4 1733,849.7 1732,849.2 1731,856.6 1730,863.9 1729,871.2 1728,895.7 1727,931.3 1726,933.4 1725,934.3 1724,934.8 1723,935.1 1722,935.2 1721,935.0 1720,934.6 1719,934.0 1718,932.8 1717,874.3 1716,870.3 1715,866.3 1714,864.9 1713,864.7 1712,864.4 1711,864.2 1710,863.9 1709,863.7 1708,863.4 1707,863.2 1706,862.9 1705,862.7 1704,862.3 1703,861.8 1702,861.3 1701,860.8 1700,860.3 1699,857.8 1698,854.4 1697,851.1 1696,847.8 1695,850.2 1694,852.8 1693,855.5 1692,858.7 1691,860.8 1690,861.7 1689,862.3 1688,862.6 1687,862.6 1686,862.5 1685,862.1 1684,861.4 1683,860.5 1682,859.9 1681,858.9 1680,857.9 1679,856.9 1678,855.9 1677,855.0 1676,854.5 1675,854.0 1674,853.5 1673,853.0 1672,852.4 1671,851.0 1670,849.7 1669,848.4 1668,848.5 1667,850.5 1666,852.5 1665,854.5 1664,855.7 1663,856.5 1662,857.3 1661,858.1 1660,858.9 1659,859.7 1658,871.4 1657,895.0 1656,896.3 1655,897.1 1654,897.5 1653,897.6 1652,897.6 1651,897.3 1650,896.8 1649,896.0 1648,894.2 1647,849.9 1646,848.9 1645,847.9 1644,851.0 1643,856.0 1642,860.2 1641,860.8 1640,861.7 1639,862.3 1638,862.6 1637,862.6 1636,862.5 1635,862.1 1634,861.5 1633,860.3 1632,857.6 1631,857.2 1630,856.9 1629,856.6 1628,856.2 1627,855.9 1626,855.6 1625,855.2 1624,852.5 1623,848.5 1622,844.5 1621,840.5 1620,854.8 1619,860.6 1618,861.2 1617,861.9 1616,862.6 1615,863.0 1614,863.4 1613,863.8 1612,864.2 1611,864.6 1610,865.0 1609,875.0 1608,876.3 1607,877.0 1606,877.4 1605,877.6 1604,877.6 1603,877.3 1602,876.8 1601,876.0 1600,874.3 1599,872.4 1598,870.0 1597,867.7 1596,865.4 1595,865.6 1594,866.1 1593,866.6 1592,870.9 1591,873.3 1590,874.2 1589,874.8 1588,875.1 1587,875.1 1586,875.0 1585,874.6 1584,874.0 1583,873.1 1582,871.9 1581,866.9 1580,861.9 1579,859.5 1578,858.5 1577,857.5 1576,856.5 1575,858.5 1574,860.8 1573,863.1 1572,865.2 1571,865.7 1570,866.7 1569,867.3 1568,867.5 1567,867.6 1566,867.5 1565,867.1 1564,866.5 1563,865.6 1562,864.8 1561,862.1 1560,859.4 1559,856.8 1558,854.6 1557,853.3 1556,851.9 1555,851.6 1554,852.7 1553,853.4 1552,853.7 1551,853.9 1550,853.8 1549,853.5 1548,853.3 1547,853.1 1546,852.9 1545,852.7 1544,851.5 1543,849.8 1542,848.0 1541,846.3 1540,844.5 1539,847.0 1538,851.0 1537,853.4 1536,855.7 1535,858.1 1534,861.5 1533,872.7 1532,882.7 1531,883.2 1530,883.8 1529,884.3 1528,884.8 1527,885.4 1526,900.0 1525,981.3 1524,1011.3 1523,1026.9 1522,1041.9 1521,1051.0 1520,1053.0 1519,1055.0 1518,1057.0 1517,1059.0 1516,1060.2 1515,1060.7 1514,1061.1 1513,1061.3 1512,1061.3 1511,1061.0 1510,1060.5 1509,1059.6 1508,1057.8 1507,1074.7 1506,1090.7 1505,1092.0 1504,1093.4 1503,1094.7 1502,1099.9 1501,1106.8 1500,1113.8 1499,1140.8 1498,1183.6 1497,1185.8 1496,1186.7 1495,1187.3 1494,1187.6 1493,1187.6 1492,1187.5 1491,1187.1 1490,1186.5 1489,1185.3 1488,1182.9 1487,1174.3 1486,1168.5 1485,1170.5 1484,1172.5 1483,1175.5 1482,1176.5 1481,1177.2 1480,1177.5 1479,1177.6 1478,1177.5 1477,1177.2 1476,1176.7 1475,1176.4 1474,1176.6 1473,1176.9 1472,1177.1 1471,1177.3 1470,1177.6 1469,1193.0 1468,1213.0 1467,1214.1 1466,1214.7 1465,1215.0 1464,1215.1 1463,1215.1 1462,1214.8 1461,1214.2 1460,1213.2 1459,1179.6 1458,1177.0 1457,1176.3 1456,1175.7 1455,1173.0 1454,1161.0 1453,1149.0 1452,1145.1 1451,1145.1 1450,1145.1 1449,1145.1 1448,1145.1 1447,1145.1 1446,1145.1 1445,1145.3 1444,1146.3 1443,1147.3 1442,1148.3 1441,1149.3 1440,1152.8 1439,1168.8 1438,1171.7 1437,1172.8 1436,1173.4 1435,1173.8 1434,1173.9 1433,1173.8 1432,1173.5 1431,1172.9 1430,1171.9 1429,1144.6 1428,1145.3 1427,1148.3 1426,1151.3 1425,1154.3 1424,1157.3 1423,1169.9 1422,1183.4 1421,1192.8 1420,1196.3 1419,1199.8 1418,1206.5 1417,1213.5 1416,1217.9 1415,1218.4 1414,1218.9 1413,1219.4 1412,1219.9 1411,1220.3 1410,1220.8 1409,1221.3 1408,1222.0 1407,1222.5 1406,1222.6 1405,1222.6 1404,1222.4 1403,1221.9 1402,1221.0 1401,1219.3 1400,1197.0 1399,1184.0 1398,1182.8 1397,1183.0 1396,1183.2 1395,1183.4 1394,1183.7 1393,1183.9 1392,1183.8 1391,1183.6 1390,1183.2 1389,1183.0 1388,1182.7 1387,1181.3 1386,1179.3 1385,1177.3 1384,1175.3 1383,1167.1 1382,1158.1 1381,1153.4 1380,1155.4 1379,1157.4 1378,1159.4 1377,1160.5 1376,1161.1 1375,1161.6 1374,1162.2 1373,1162.9 1372,1164.0 1371,1164.6 1370,1165.0 1369,1165.1 1368,1165.1 1367,1165.1 1366,1165.1 1365,1165.1 1364,1165.1 1363,1180.2 1362,1195.2 1361,1197.0 1360,1198.0 1359,1198.5 1358,1198.8 1357,1198.9 1356,1198.8 1355,1198.4 1354,1197.8 1353,1196.6 1352,1190.8 1351,1183.8 1350,1177.6 1349,1177.0 1348,1176.4 1347,1175.8 1346,1175.2 1345,1174.6 1344,1174.0 1343,1174.4 1342,1175.0 1341,1175.6 1340,1176.2 1339,1176.8 1338,1177.4 1337,1181.2 1336,1182.5 1335,1183.3 1334,1183.7 1333,1183.9 1332,1183.8 1331,1183.6 1330,1183.4 1329,1183.2 1328,1183.0 1327,1182.8 1326,1183.4 1325,1185.4 1324,1187.4 1323,1189.4 1322,1192.0 1321,1195.0 1320,1197.8 1319,1199.1 1318,1200.4 1317,1201.8 1316,1204.7 1315,1210.4 1314,1217.0 1313,1217.9 1312,1218.5 1311,1218.8 1310,1218.9 1309,1218.8 1308,1218.4 1307,1217.8 1306,1216.7 1305,1175.2 1304,1176.2 1303,1177.2 1302,1178.2 1301,1179.2 1300,1180.4 1299,1183.4 1298,1186.4 1297,1188.6 1296,1190.0 1295,1190.8 1294,1191.2 1293,1191.4 1292,1191.4 1291,1191.1 1290,1190.6 1289,1189.8 1288,1188.2 1287,1187.4 1286,1187.0 1285,1186.6 1284,1186.2 1283,1185.8 1282,1185.4 1281,1184.2 1280,1181.6 1279,1178.9 1278,1176.2 1277,1175.0 1276,1174.8 1275,1174.6 1274,1174.4 1273,1174.2 1272,1174.0 1271,1174.1 1270,1174.9 1269,1175.6 1268,1176.4 1267,1177.1 1266,1180.9 1265,1190.9 1264,1196.9 1263,1197.9 1262,1198.5 1261,1198.8 1260,1198.9 1259,1198.8 1258,1198.4 1257,1197.8 1256,1196.7 1255,1170.2 1254,1171.6 1253,1172.9 1252,1174.2 1251,1175.3 1250,1175.7 1249,1176.1 1248,1176.5 1247,1176.9 1246,1177.3 1245,1177.7 1244,1178.7 1243,1179.7 1242,1180.7 1241,1181.7 1240,1183.0 1239,1194.8 1238,1196.2 1237,1197.0 1236,1197.4 1235,1197.6 1234,1197.6 1233,1197.4 1232,1196.9 1231,1196.1 1230,1194.5 1229,1189.4 1228,1188.5 1227,1188.0 1226,1187.5 1225,1187.0 1224,1186.5 1223,1184.4 1222,1181.9 1221,1180.0 1220,1179.5 1219,1179.0 1218,1178.5 1217,1178.0 1216,1177.3 1215,1176.3 1214,1175.3 1213,1174.3 1212,1173.3 1211,1169.3 1210,1158.3 1209,1147.3 1208,1174.0 1207,1175.2 1206,1175.9 1205,1176.2 1204,1176.4 1203,1176.3 1202,1176.0 1201,1175.5 1200,1174.6 1199,1174.0 1198,1167.9 1197,1160.4 1196,1154.9 1195,1154.1 1194,1153.3 1193,1152.5 1192,1151.7 1191,1150.9 1190,1150.0 1189,1148.0 1188,1146.0 1187,1144.0 1186,1146.7 1185,1160.7 1184,1174.7 1183,1178.3 1182,1179.1 1181,1179.9 1180,1180.7 1179,1181.5 1178,1182.3 1177,1183.1 1176,1184.1 1175,1185.9 1174,1186.8 1173,1187.3 1172,1187.6 1171,1187.6 1170,1187.5 1169,1187.1 1168,1186.4 1167,1185.5 1166,1185.0 1165,1184.5 1164,1184.0 1163,1183.5 1162,1183.0 1161,1178.7 1160,1164.7 1159,1150.7 1158,1139.0 1157,1128.1 1156,1119.8 1155,1118.8 1154,1117.8 1153,1116.8 1152,1115.8 1151,1122.7 1150,1124.6 1149,1125.5 1148,1126.0 1147,1126.3 1146,1126.3 1145,1126.2 1144,1125.8 1143,1125.1 1142,1124.2 1141,1123.5 1140,1122.2 1139,1120.8 1138,1119.5 1137,1119.0 1136,1119.2 1135,1119.4 1134,1119.6 1133,1119.8 1132,1120.0 1131,1125.2 1130,1127.1 1129,1128.0 1128,1128.5 1127,1128.8 1126,1128.8 1125,1128.7 1124,1128.3 1123,1127.6 1122,1126.4 1121,1123.8 1120,1118.8 1119,1113.8 1118,1109.9 1117,1106.4 1116,1102.9 1115,1099.4 1114,1095.9 1113,1073.9 1112,1059.7 1111,1058.9 1110,1058.2 1109,1057.4 1108,1056.7 1107,1056.6 1106,1057.1 1105,1057.6 1104,1058.1 1103,1058.6 1102,1059.1 1101,1059.6 1100,1060.1 1099,1054.2 1098,1037.8 1097,1035.6 1096,1042.6 1095,1049.6 1094,1063.4 1093,1078.8 1092,1080.1 1091,1080.8 1090,1081.2 1089,1081.4 1088,1081.4 1087,1081.1 1086,1080.6 1085,1079.8 1084,1078.0 1083,1069.8 1082,1061.8 1081,1055.1 1080,1054.6 1079,1054.1 1078,1053.6 1077,1053.1 1076,1052.3 1075,1050.3 1074,1048.3 1073,1046.3 1072,1046.5 1071,1049.9 1070,1053.2 1069,1056.5 1068,1070.0 1067,1071.4 1066,1072.1 1065,1072.5 1064,1072.7 1063,1072.7 1062,1072.7 1061,1072.7 1060,1072.7 1059,1072.7 1058,1084.7 1057,1087.1 1056,1088.0 1055,1088.6 1054,1088.9 1053,1088.9 1052,1088.8 1051,1088.4 1050,1087.8 1049,1086.6 1048,1078.6 1047,1072.9 1046,1073.6 1045,1074.4 1044,1074.9 1043,1075.1 1042,1075.2 1041,1075.0 1040,1074.6 1039,1073.8 1038,1072.4 1037,1065.0 1036,1052.0 1035,1039.0 1034,1034.1 1033,1030.1 1032,1030.8 1031,1038.8 1030,1046.8 1029,1050.0 1028,1052.7 1027,1055.4 1026,1058.3 1025,1060.8 1024,1061.7 1023,1062.3 1022,1062.6 1021,1062.7 1020,1062.5 1019,1062.2 1018,1061.5 1017,1060.4 1016,1057.0 1015,1052.0 1014,1047.0 1013,1045.6 1012,1046.3 1011,1046.9 1010,1047.6 1009,1053.0 1008,1059.0 1007,1065.0 1006,1070.8 1005,1073.3 1004,1074.2 1003,1074.8 1002,1075.1 1001,1075.2 1000,1075.2 999,1075.2 998,1075.2 997,1075.2 996,1075.2 995,1075.2 994,1082.7 993,1092.5 992,1093.8 991,1094.6 990,1095.0 989,1095.2 988,1095.1 987,1094.9 986,1094.4 985,1093.6 984,1091.9 983,1055.8 982,1048.8 981,1042.5 980,1041.5 979,1040.5 978,1039.5 977,1038.5 976,1037.0 975,1031.0 974,1025.0 973,1023.0 972,1023.5 971,1024.0 970,1024.5 969,1025.0 968,1031.3 967,1041.3 966,1050.8 965,1056.8 964,1059.1 963,1060.3 962,1060.9 961,1061.3 960,1061.4 959,1061.3 958,1061.1 957,1060.5 956,1059.5 955,1057.2 954,1049.2 953,1048.5 952,1049.8 951,1051.1 950,1052.5 949,1053.5 948,1054.5 947,1055.5 946,1056.5 945,1057.5 944,1058.2 943,1058.8 942,1060.0 941,1060.8 940,1061.2 939,1061.4 938,1061.4 937,1061.2 936,1060.7 935,1059.8 934,1058.2 933,1052.8 932,1048.8 931,1044.8 930,1040.8 929,1041.8 928,1043.8 927,1045.8 926,1047.7 925,1048.2 924,1049.2 923,1049.8 922,1050.1 921,1050.2 920,1050.0 919,1049.7 918,1049.1 917,1048.0 916,1036.9 915,1037.5 914,1043.5 913,1050.5 912,1056.8 911,1058.5 910,1059.4 909,1059.9 908,1060.1 907,1060.2 906,1060.0 905,1059.6 904,1058.9 903,1057.6 902,1052.2 901,1043.2 900,1034.2 899,1031.0 898,1029.0 897,1027.0 896,1024.6 895,1018.0 894,1011.3 893,1005.7 892,1013.2 891,1020.2 890,1020.7 889,1021.7 888,1022.3 887,1022.6 886,1022.7 885,1022.7 884,1022.7 883,1022.7 882,1022.7 881,1022.7 880,1022.5 879,1022.2 878,1021.6 877,1020.5 876,1018.4 875,1020.9 874,1023.4 873,1025.9 872,1028.1 871,1029.4 870,1030.7 869,1032.1 868,1033.2 867,1034.2 866,1035.2 865,1036.2 864,1037.2 863,1038.6 862,1040.0 861,1040.8 860,1041.2 859,1041.4 858,1041.4 857,1041.2 856,1040.7 855,1040.2 854,1039.1 853,1037.7 852,1036.4 851,1035.1 850,1033.7 849,1032.4 848,1031.1 847,1029.7 846,1028.4 845,1027.1 844,1025.7 843,1024.6 842,1023.6 841,1022.6 840,1021.6 839,1020.6 838,1014.6 837,1004.6 836,995.2 835,996.7 834,998.2 833,999.7 832,1001.2 831,1002.7 830,1004.2 829,1005.7 828,1007.2 827,1008.7 826,1010.3 825,1012.8 824,1015.3 823,1017.8 822,1020.3 821,1022.8 820,1025.3 819,1027.8 818,1030.3 817,1032.8 816,1035.2 815,1037.2 814,1039.2 813,1041.2 812,1046.6 811,1048.5 810,1049.3 809,1049.9 808,1050.1 807,1050.2 806,1050.0 805,1049.6 804,1048.9 803,1047.6 802,1038.3 801,1033.9 800,1033.7 799,1033.5 798,1033.3 797,1033.1 796,1032.9 795,1032.7 794,1031.9 793,1030.9 792,1029.9 791,1028.9 790,1027.9 789,1024.0 788,1019.4 787,1014.7 786,1010.2 785,1013.0 784,1015.8 783,1018.6 782,1021.4 781,1024.2 780,1027.0 779,1029.2 778,1031.2 777,1033.2 776,1035.2 775,1036.9 774,1037.9 773,1038.5 772,1038.8 771,1038.9 770,1038.8 769,1038.5 768,1037.9 767,1036.8 766,1035.1 765,1029.1 764,1023.1 763,1019.4 762,1017.9 761,1016.4 760,1014.9 759,1013.4 758,1008.3 757,999.8 756,991.4 755,991.6 754,991.8 753,992.0 752,992.2 751,992.4 750,992.6 749,992.8 748,993.0 747,993.2 746,993.4 745,993.6 744,993.8 743,999.2 742,1009.7 741,1020.2 740,1020.7 739,1021.2 738,1021.7 737,1022.2 736,1022.7 735,1020.1 734,1020.1 733,1020.1 732,1021.0 731,1022.3 730,1023.5 729,1024.8 728,1026.0 727,1026.8 726,1027.4 725,1028.6 724,1029.4 723,1029.8 722,1030.1 721,1030.1 720,1029.8 719,1029.4 718,1028.6 717,1027.4 716,1026.8 715,1025.9 714,1024.2 713,1022.6 712,1020.9 711,1017.4 710,1012.1 709,1006.7 708,1001.4 707,1001.6 706,1003.6 705,1005.6 704,1007.6 703,1009.6 702,1011.6 701,1013.6 700,1015.3 699,1016.3 698,1017.3 697,1018.3 696,1019.3 695,1020.3 694,1021.3 693,1022.3 692,1047.6 691,1048.8 690,1049.5 689,1049.9 688,1050.1 687,1050.1 686,1050.1 685,1050.1 684,1050.1 683,1050.0 682,1049.7 681,1049.1 680,1048.1 679,1078.8 678,1080.1 677,1080.8 676,1081.2 675,1081.3 674,1081.3 673,1081.0 672,1080.5 671,1079.6 670,1077.8 669,1045.6 668,1054.9 667,1058.8 666,1060.1 665,1060.8 664,1061.2 663,1061.3 662,1061.3 661,1061.0 660,1060.5 659,1059.6 658,1057.8 657,1050.3 656,1040.3 655,1032.5 654,1032.1 653,1031.7 652,1032.9 651,1039.7 650,1045.3 649,1046.1 648,1046.9 647,1047.7 646,1048.5 645,1049.3 644,1050.1 643,1051.1 642,1052.1 641,1053.1 640,1054.1 639,1055.1 638,1100.0 637,1102.1 636,1103.0 635,1103.5 634,1103.8 633,1103.9 632,1103.7 631,1103.3 630,1102.7 629,1101.5 628,1088.3 627,1084.4 626,1083.4 625,1082.4 624,1081.4 623,1080.4 622,1074.8 621,1067.3 620,1059.8 619,1052.3 618,1044.8 617,1036.2 616,1031.3 615,1031.3 614,1031.3 613,1031.3 612,1031.3 611,1031.3 610,1033.5 609,1044.5 608,1045.5 607,1045.9 606,1046.4 605,1046.8 604,1047.2 603,1056.5 602,1071.0 601,1072.4 600,1073.7 599,1075.0 598,1078.9 597,1087.4 596,1089.5 595,1090.5 594,1091.0 593,1091.3 592,1091.4 591,1091.2 590,1090.8 589,1090.2 588,1089.0 587,1067.2 586,1052.3 585,1051.6 584,1051.0 583,1050.3 582,1047.8 581,1044.5 580,1041.1 579,1037.8 578,1047.6 577,1105.0 576,1106.3 575,1107.0 574,1107.4 573,1107.6 572,1107.6 571,1107.3 570,1106.8 569,1106.0 568,1104.2 567,1060.4 566,1025.1 565,1025.1 564,1025.1 563,1025.1 562,1025.1 561,1077.8 560,1120.0 559,1121.3 558,1122.0 557,1122.4 556,1122.6 555,1122.6 554,1122.3 553,1121.8 552,1121.0 551,1119.2 550,1022.3 549,1021.0 548,1019.7 547,1018.3 546,1013.8 545,1004.8 544,995.8 543,989.6 542,983.6 541,982.3 540,987.6 539,992.9 538,998.3 537,1001.6 536,1004.0 535,1006.3 534,1008.6 533,1009.0 532,1009.2 531,1009.4 530,1009.6 529,1009.8 528,1010.0 527,1054.6 526,1057.0 525,1057.9 524,1058.5 523,1058.8 522,1058.8 521,1058.7 520,1058.3 519,1057.7 518,1056.5 517,1030.5 516,996.7 515,967.3 514,940.2 513,937.2 512,936.8 511,936.5 510,936.1 509,935.7 508,935.3 507,936.3 506,945.1 505,952.6 504,953.2 503,954.1 502,954.7 501,955.0 500,955.0 499,954.9 498,954.6 497,953.9 496,952.8 495,948.4 494,948.2 493,947.9 492,947.7 491,952.6 490,965.6 489,978.6 488,1005.7 487,1008.2 486,1009.1 485,1009.7 484,1010.0 483,1010.1 482,1009.9 481,1009.6 480,1008.9 479,1007.8 478,972.3 477,962.8 476,959.3 475,956.2 474,955.8 473,955.3 472,954.8 471,954.4 470,953.9 469,953.4 468,953.0 467,950.8 466,937.7 465,926.2 464,925.9 463,925.6 462,931.1 461,932.4 460,933.2 459,933.6 458,933.8 457,933.7 456,933.5 455,933.1 454,932.9 453,932.6 452,928.2 451,921.2 450,915.0 449,914.9 448,914.7 447,914.6 446,914.4 445,914.3 444,914.2 443,914.0 442,913.9 441,919.3 440,932.6 439,933.1 438,933.6 437,934.1 436,934.6 435,935.1 434,935.3 433,935.6 432,935.8 431,936.1 430,936.3 429,936.6 428,936.8 427,937.2 426,937.5 425,937.5 424,937.4 423,937.1 422,936.7 421,936.5 420,936.2 419,935.9 418,935.7 417,935.4 416,935.1 415,916.9 414,905.0 413,905.0 412,905.0 411,905.0 410,905.0 409,905.0 408,905.0 407,905.0 406,905.0 405,906.0 404,916.0 403,926.0 402,930.2 401,930.6 400,930.9 399,931.2 398,931.6 397,931.9 396,932.2 395,932.8 394,935.8 393,938.8 392,940.5 391,941.2 390,942.0 389,942.7 388,943.5 387,944.2 386,945.0 385,945.7 384,946.5 383,947.2 382,948.0 381,948.8 380,949.6 379,950.4 378,951.2 377,952.0 376,958.9 375,977.9 374,996.9 373,1023.4 372,1038.6 371,1044.6 370,1050.6 369,1056.6 368,1062.6 367,1068.6 366,1074.6 365,1081.3 364,1096.3 363,1111.3 362,1128.1 361,1141.9 360,1142.9 359,1143.5 358,1143.8 357,1143.9 356,1143.8 355,1143.4 354,1142.8 353,1141.7 352,1121.7 351,1106.2 350,1095.1 349,1094.9 348,1094.8 347,1094.6 346,1094.4 345,1094.3 344,1094.1 343,1093.9 342,1089.6 341,1082.1 340,1075.1 339,1075.1 338,1075.1 337,1075.1 336,1075.1 335,1075.1 334,1075.1 333,1075.1 332,1075.1 331,1074.8 330,1074.4 329,1073.6 328,1072.6 327,1072.6 326,1072.6 325,1072.6 324,1072.6 323,1072.6 322,1072.6 321,1072.6 320,1072.7 319,1074.3 318,1075.9 317,1077.5 316,1079.1 315,1080.7 314,1082.3 313,1086.4 312,1091.0 311,1095.7 310,1100.9 309,1114.6 308,1131.5 307,1132.7 306,1133.4 305,1133.7 304,1133.9 303,1133.8 302,1133.5 301,1133.0 300,1132.1 299,1131.0 298,1130.4 297,1133.3 296,1141.6 295,1143.4 294,1144.3 293,1144.8 292,1145.1 291,1145.1 290,1145.0 289,1144.6 288,1143.9 287,1142.6 286,1132.1 285,1124.4 284,1116.7 283,1101.7 282,1084.7 281,1063.9 280,1023.4 279,869.3 278,840.0 277,810.8 276,790.0 275,790.0 274,790.0 273,790.0 272,790.0 271,790.0 270,790.0 269,790.0 268,790.0 267,790.0 266,790.0 265,789.9 264,789.5 263,838.0 262,895.1 261,932.7 260,934.6 259,935.5 258,936.0 257,936.2 256,936.3 255,936.1 254,936.0 253,935.8 252,935.7 251,935.5 250,935.4 249,935.2 248,935.1 247,934.4 246,933.2 245,932.0 244,930.8 243,929.6 242,928.4 241,927.9 240,929.1 239,933.0 238,934.0 237,934.6 236,934.9 235,935.0 234,934.9 233,934.7 232,934.5 231,934.4 230,934.2 229,934.0 228,933.9 227,933.7 226,933.5 225,933.3 224,933.1 223,932.9 222,932.7 221,933.1 220,935.1 219,943.0 218,944.0 217,944.6 216,944.9 215,945.0 214,944.9 213,944.6 212,944.0 211,943.4 210,943.0Z" fill="#fe0000" stroke="#fe0000" stroke-width="1.2" stroke-linejoin="round"/>
</g>
<path d="M208.7,47.0V1468.5" stroke="#000" stroke-width="6.4" fill="none"/>
<path d="M178.5,1439.2H2091.7" stroke="#000" stroke-width="5.8" fill="none"/>
<path d="M178.5,1439.0H209.0 M178.5,1161.1H209.0 M178.5,883.2H209.0 M178.5,605.3H209.0 M178.5,327.4H209.0 M178.5,49.5H209.0 M209.0,1439.0V1468.5 M585.0,1439.0V1468.5 M961.0,1439.0V1468.5 M1337.0,1439.0V1468.5 M1713.0,1439.0V1468.5 M2089.0,1439.0V1468.5" stroke="#000" stroke-width="5.5" fill="none"/>
<path d="M192.0,1300.0H209.0 M192.0,1022.1H209.0 M192.0,744.2H209.0 M192.0,466.4H209.0 M192.0,188.5H209.0 M397.0,1439.0V1455.0 M773.0,1439.0V1455.0 M1149.0,1439.0V1455.0 M1525.0,1439.0V1455.0 M1901.0,1439.0V1455.0" stroke="#000" stroke-width="4.6" fill="none"/>
<g font-family="'Liberation Serif', serif" font-size="68" fill="#000">
<text transform="translate(161.5,1456.5) scale(0.925,1)" text-anchor="end">2</text>
<text transform="translate(161.5,1178.6) scale(0.925,1)" text-anchor="end">4</text>
<text transform="translate(161.5,900.7) scale(0.925,1)" text-anchor="end">6</text>
<text transform="translate(161.5,622.8) scale(0.925,1)" text-anchor="end">8</text>
<text transform="translate(161.5,344.9) scale(0.925,1)" text-anchor="end">10</text>
<text transform="translate(161.5,67.0) scale(0.925,1)" text-anchor="end">12</text>
<text transform="translate(208.5,1535.5) scale(0.925,1)" text-anchor="middle">0</text>
<text transform="translate(584.5,1535.5) scale(0.925,1)" text-anchor="middle">20</text>
<text transform="translate(960.5,1535.5) scale(0.925,1)" text-anchor="middle">40</text>
<text transform="translate(1336.5,1535.5) scale(0.925,1)" text-anchor="middle">60</text>
<text transform="translate(1712.5,1535.5) scale(0.925,1)" text-anchor="middle">80</text>
<text transform="translate(2090.5,1535.5) scale(0.925,1)" text-anchor="middle">100</text>
</g>
<g font-family="'Liberation Serif', serif" font-weight="bold" fill="#000">
<text x="1010.3" y="1587.6" font-size="68.5" textLength="279.5" lengthAdjust="spacingAndGlyphs">Time <tspan font-weight="normal">(</tspan>ns<tspan font-weight="normal">)</tspan></text>
<text transform="translate(83,1028) rotate(-90)" font-size="73" textLength="528.5" lengthAdjust="spacingAndGlyphs">CoM distance <tspan font-weight="normal">(</tspan>Å<tspan font-weight="normal">)</tspan></text>
<rect x="215.2" y="61.2" width="588.6" height="170" fill="#fff" stroke="#5a5a5a" stroke-width="3.4"/>
<path d="M249,105.5H401" stroke="#000" stroke-width="12" stroke-linecap="round"/>
<path d="M249,191.5H401" stroke="#fe0000" stroke-width="12" stroke-linecap="round"/>
<text x="424.3" y="128.8" font-size="66" textLength="361.5" lengthAdjust="spacingAndGlyphs">Erylosides B</text>
<text x="420.8" y="213.8" font-size="66" textLength="290.5" lengthAdjust="spacingAndGlyphs">Lopinavir</text>
</g>
</svg>
</body></html>
